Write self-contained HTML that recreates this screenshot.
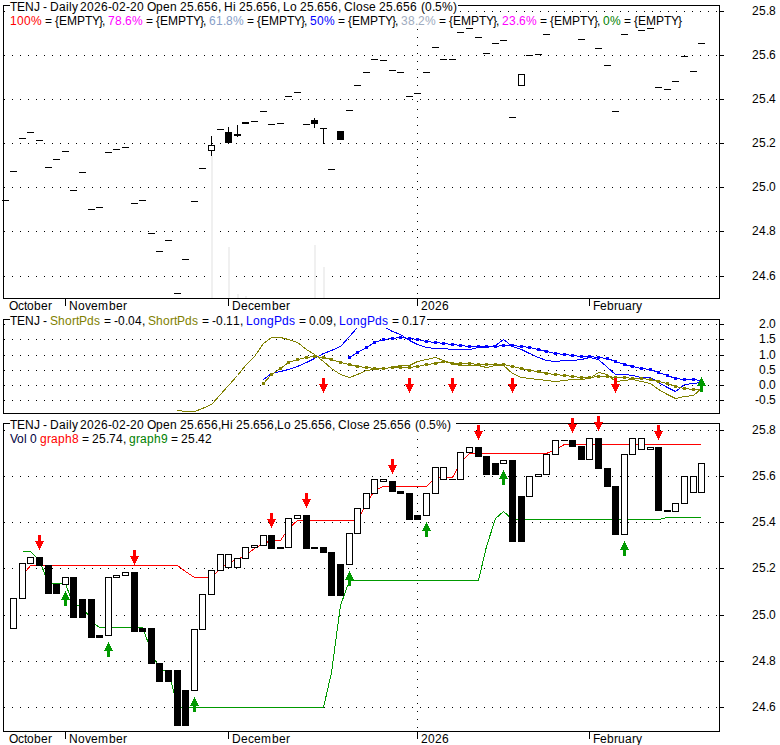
<!DOCTYPE html>
<html><head><meta charset="utf-8"><title>TENJ chart</title>
<style>
html,body{margin:0;padding:0;background:#fff;}
body{width:780px;height:745px;overflow:hidden;}
svg{display:block;font-family:"Liberation Sans",sans-serif;font-size:12px;fill:#000;}
svg rect{shape-rendering:crispEdges;}
</style></head><body>
<svg width="780" height="745" viewBox="0 0 780 745">
<rect x="0" y="0" width="780" height="745" fill="#fff"/>
<rect x="12" y="11" width="1" height="1" fill="#000"/>
<rect x="20" y="11" width="1" height="1" fill="#000"/>
<rect x="28" y="11" width="1" height="1" fill="#000"/>
<rect x="36" y="11" width="1" height="1" fill="#000"/>
<rect x="44" y="11" width="1" height="1" fill="#000"/>
<rect x="52" y="11" width="1" height="1" fill="#000"/>
<rect x="60" y="11" width="1" height="1" fill="#000"/>
<rect x="68" y="11" width="1" height="1" fill="#000"/>
<rect x="76" y="11" width="1" height="1" fill="#000"/>
<rect x="84" y="11" width="1" height="1" fill="#000"/>
<rect x="92" y="11" width="1" height="1" fill="#000"/>
<rect x="100" y="11" width="1" height="1" fill="#000"/>
<rect x="108" y="11" width="1" height="1" fill="#000"/>
<rect x="116" y="11" width="1" height="1" fill="#000"/>
<rect x="124" y="11" width="1" height="1" fill="#000"/>
<rect x="132" y="11" width="1" height="1" fill="#000"/>
<rect x="140" y="11" width="1" height="1" fill="#000"/>
<rect x="148" y="11" width="1" height="1" fill="#000"/>
<rect x="156" y="11" width="1" height="1" fill="#000"/>
<rect x="164" y="11" width="1" height="1" fill="#000"/>
<rect x="172" y="11" width="1" height="1" fill="#000"/>
<rect x="180" y="11" width="1" height="1" fill="#000"/>
<rect x="188" y="11" width="1" height="1" fill="#000"/>
<rect x="196" y="11" width="1" height="1" fill="#000"/>
<rect x="204" y="11" width="1" height="1" fill="#000"/>
<rect x="212" y="11" width="1" height="1" fill="#000"/>
<rect x="220" y="11" width="1" height="1" fill="#000"/>
<rect x="228" y="11" width="1" height="1" fill="#000"/>
<rect x="236" y="11" width="1" height="1" fill="#000"/>
<rect x="244" y="11" width="1" height="1" fill="#000"/>
<rect x="252" y="11" width="1" height="1" fill="#000"/>
<rect x="260" y="11" width="1" height="1" fill="#000"/>
<rect x="268" y="11" width="1" height="1" fill="#000"/>
<rect x="276" y="11" width="1" height="1" fill="#000"/>
<rect x="284" y="11" width="1" height="1" fill="#000"/>
<rect x="292" y="11" width="1" height="1" fill="#000"/>
<rect x="300" y="11" width="1" height="1" fill="#000"/>
<rect x="308" y="11" width="1" height="1" fill="#000"/>
<rect x="316" y="11" width="1" height="1" fill="#000"/>
<rect x="324" y="11" width="1" height="1" fill="#000"/>
<rect x="332" y="11" width="1" height="1" fill="#000"/>
<rect x="340" y="11" width="1" height="1" fill="#000"/>
<rect x="348" y="11" width="1" height="1" fill="#000"/>
<rect x="356" y="11" width="1" height="1" fill="#000"/>
<rect x="364" y="11" width="1" height="1" fill="#000"/>
<rect x="372" y="11" width="1" height="1" fill="#000"/>
<rect x="380" y="11" width="1" height="1" fill="#000"/>
<rect x="388" y="11" width="1" height="1" fill="#000"/>
<rect x="396" y="11" width="1" height="1" fill="#000"/>
<rect x="404" y="11" width="1" height="1" fill="#000"/>
<rect x="412" y="11" width="1" height="1" fill="#000"/>
<rect x="420" y="11" width="1" height="1" fill="#000"/>
<rect x="428" y="11" width="1" height="1" fill="#000"/>
<rect x="436" y="11" width="1" height="1" fill="#000"/>
<rect x="444" y="11" width="1" height="1" fill="#000"/>
<rect x="452" y="11" width="1" height="1" fill="#000"/>
<rect x="460" y="11" width="1" height="1" fill="#000"/>
<rect x="468" y="11" width="1" height="1" fill="#000"/>
<rect x="476" y="11" width="1" height="1" fill="#000"/>
<rect x="484" y="11" width="1" height="1" fill="#000"/>
<rect x="492" y="11" width="1" height="1" fill="#000"/>
<rect x="500" y="11" width="1" height="1" fill="#000"/>
<rect x="508" y="11" width="1" height="1" fill="#000"/>
<rect x="516" y="11" width="1" height="1" fill="#000"/>
<rect x="524" y="11" width="1" height="1" fill="#000"/>
<rect x="532" y="11" width="1" height="1" fill="#000"/>
<rect x="540" y="11" width="1" height="1" fill="#000"/>
<rect x="548" y="11" width="1" height="1" fill="#000"/>
<rect x="556" y="11" width="1" height="1" fill="#000"/>
<rect x="564" y="11" width="1" height="1" fill="#000"/>
<rect x="572" y="11" width="1" height="1" fill="#000"/>
<rect x="580" y="11" width="1" height="1" fill="#000"/>
<rect x="588" y="11" width="1" height="1" fill="#000"/>
<rect x="596" y="11" width="1" height="1" fill="#000"/>
<rect x="604" y="11" width="1" height="1" fill="#000"/>
<rect x="612" y="11" width="1" height="1" fill="#000"/>
<rect x="620" y="11" width="1" height="1" fill="#000"/>
<rect x="628" y="11" width="1" height="1" fill="#000"/>
<rect x="636" y="11" width="1" height="1" fill="#000"/>
<rect x="644" y="11" width="1" height="1" fill="#000"/>
<rect x="652" y="11" width="1" height="1" fill="#000"/>
<rect x="660" y="11" width="1" height="1" fill="#000"/>
<rect x="668" y="11" width="1" height="1" fill="#000"/>
<rect x="676" y="11" width="1" height="1" fill="#000"/>
<rect x="684" y="11" width="1" height="1" fill="#000"/>
<rect x="692" y="11" width="1" height="1" fill="#000"/>
<rect x="700" y="11" width="1" height="1" fill="#000"/>
<rect x="708" y="11" width="1" height="1" fill="#000"/>
<rect x="716" y="11" width="1" height="1" fill="#000"/>
<rect x="12" y="55" width="1" height="1" fill="#000"/>
<rect x="20" y="55" width="1" height="1" fill="#000"/>
<rect x="28" y="55" width="1" height="1" fill="#000"/>
<rect x="36" y="55" width="1" height="1" fill="#000"/>
<rect x="44" y="55" width="1" height="1" fill="#000"/>
<rect x="52" y="55" width="1" height="1" fill="#000"/>
<rect x="60" y="55" width="1" height="1" fill="#000"/>
<rect x="68" y="55" width="1" height="1" fill="#000"/>
<rect x="76" y="55" width="1" height="1" fill="#000"/>
<rect x="84" y="55" width="1" height="1" fill="#000"/>
<rect x="92" y="55" width="1" height="1" fill="#000"/>
<rect x="100" y="55" width="1" height="1" fill="#000"/>
<rect x="108" y="55" width="1" height="1" fill="#000"/>
<rect x="116" y="55" width="1" height="1" fill="#000"/>
<rect x="124" y="55" width="1" height="1" fill="#000"/>
<rect x="132" y="55" width="1" height="1" fill="#000"/>
<rect x="140" y="55" width="1" height="1" fill="#000"/>
<rect x="148" y="55" width="1" height="1" fill="#000"/>
<rect x="156" y="55" width="1" height="1" fill="#000"/>
<rect x="164" y="55" width="1" height="1" fill="#000"/>
<rect x="172" y="55" width="1" height="1" fill="#000"/>
<rect x="180" y="55" width="1" height="1" fill="#000"/>
<rect x="188" y="55" width="1" height="1" fill="#000"/>
<rect x="196" y="55" width="1" height="1" fill="#000"/>
<rect x="204" y="55" width="1" height="1" fill="#000"/>
<rect x="212" y="55" width="1" height="1" fill="#000"/>
<rect x="220" y="55" width="1" height="1" fill="#000"/>
<rect x="228" y="55" width="1" height="1" fill="#000"/>
<rect x="236" y="55" width="1" height="1" fill="#000"/>
<rect x="244" y="55" width="1" height="1" fill="#000"/>
<rect x="252" y="55" width="1" height="1" fill="#000"/>
<rect x="260" y="55" width="1" height="1" fill="#000"/>
<rect x="268" y="55" width="1" height="1" fill="#000"/>
<rect x="276" y="55" width="1" height="1" fill="#000"/>
<rect x="284" y="55" width="1" height="1" fill="#000"/>
<rect x="292" y="55" width="1" height="1" fill="#000"/>
<rect x="300" y="55" width="1" height="1" fill="#000"/>
<rect x="308" y="55" width="1" height="1" fill="#000"/>
<rect x="316" y="55" width="1" height="1" fill="#000"/>
<rect x="324" y="55" width="1" height="1" fill="#000"/>
<rect x="332" y="55" width="1" height="1" fill="#000"/>
<rect x="340" y="55" width="1" height="1" fill="#000"/>
<rect x="348" y="55" width="1" height="1" fill="#000"/>
<rect x="356" y="55" width="1" height="1" fill="#000"/>
<rect x="364" y="55" width="1" height="1" fill="#000"/>
<rect x="372" y="55" width="1" height="1" fill="#000"/>
<rect x="380" y="55" width="1" height="1" fill="#000"/>
<rect x="388" y="55" width="1" height="1" fill="#000"/>
<rect x="396" y="55" width="1" height="1" fill="#000"/>
<rect x="404" y="55" width="1" height="1" fill="#000"/>
<rect x="412" y="55" width="1" height="1" fill="#000"/>
<rect x="420" y="55" width="1" height="1" fill="#000"/>
<rect x="428" y="55" width="1" height="1" fill="#000"/>
<rect x="436" y="55" width="1" height="1" fill="#000"/>
<rect x="444" y="55" width="1" height="1" fill="#000"/>
<rect x="452" y="55" width="1" height="1" fill="#000"/>
<rect x="460" y="55" width="1" height="1" fill="#000"/>
<rect x="468" y="55" width="1" height="1" fill="#000"/>
<rect x="476" y="55" width="1" height="1" fill="#000"/>
<rect x="484" y="55" width="1" height="1" fill="#000"/>
<rect x="492" y="55" width="1" height="1" fill="#000"/>
<rect x="500" y="55" width="1" height="1" fill="#000"/>
<rect x="508" y="55" width="1" height="1" fill="#000"/>
<rect x="516" y="55" width="1" height="1" fill="#000"/>
<rect x="524" y="55" width="1" height="1" fill="#000"/>
<rect x="532" y="55" width="1" height="1" fill="#000"/>
<rect x="540" y="55" width="1" height="1" fill="#000"/>
<rect x="548" y="55" width="1" height="1" fill="#000"/>
<rect x="556" y="55" width="1" height="1" fill="#000"/>
<rect x="564" y="55" width="1" height="1" fill="#000"/>
<rect x="572" y="55" width="1" height="1" fill="#000"/>
<rect x="580" y="55" width="1" height="1" fill="#000"/>
<rect x="588" y="55" width="1" height="1" fill="#000"/>
<rect x="596" y="55" width="1" height="1" fill="#000"/>
<rect x="604" y="55" width="1" height="1" fill="#000"/>
<rect x="612" y="55" width="1" height="1" fill="#000"/>
<rect x="620" y="55" width="1" height="1" fill="#000"/>
<rect x="628" y="55" width="1" height="1" fill="#000"/>
<rect x="636" y="55" width="1" height="1" fill="#000"/>
<rect x="644" y="55" width="1" height="1" fill="#000"/>
<rect x="652" y="55" width="1" height="1" fill="#000"/>
<rect x="660" y="55" width="1" height="1" fill="#000"/>
<rect x="668" y="55" width="1" height="1" fill="#000"/>
<rect x="676" y="55" width="1" height="1" fill="#000"/>
<rect x="684" y="55" width="1" height="1" fill="#000"/>
<rect x="692" y="55" width="1" height="1" fill="#000"/>
<rect x="700" y="55" width="1" height="1" fill="#000"/>
<rect x="708" y="55" width="1" height="1" fill="#000"/>
<rect x="716" y="55" width="1" height="1" fill="#000"/>
<rect x="12" y="99" width="1" height="1" fill="#000"/>
<rect x="20" y="99" width="1" height="1" fill="#000"/>
<rect x="28" y="99" width="1" height="1" fill="#000"/>
<rect x="36" y="99" width="1" height="1" fill="#000"/>
<rect x="44" y="99" width="1" height="1" fill="#000"/>
<rect x="52" y="99" width="1" height="1" fill="#000"/>
<rect x="60" y="99" width="1" height="1" fill="#000"/>
<rect x="68" y="99" width="1" height="1" fill="#000"/>
<rect x="76" y="99" width="1" height="1" fill="#000"/>
<rect x="84" y="99" width="1" height="1" fill="#000"/>
<rect x="92" y="99" width="1" height="1" fill="#000"/>
<rect x="100" y="99" width="1" height="1" fill="#000"/>
<rect x="108" y="99" width="1" height="1" fill="#000"/>
<rect x="116" y="99" width="1" height="1" fill="#000"/>
<rect x="124" y="99" width="1" height="1" fill="#000"/>
<rect x="132" y="99" width="1" height="1" fill="#000"/>
<rect x="140" y="99" width="1" height="1" fill="#000"/>
<rect x="148" y="99" width="1" height="1" fill="#000"/>
<rect x="156" y="99" width="1" height="1" fill="#000"/>
<rect x="164" y="99" width="1" height="1" fill="#000"/>
<rect x="172" y="99" width="1" height="1" fill="#000"/>
<rect x="180" y="99" width="1" height="1" fill="#000"/>
<rect x="188" y="99" width="1" height="1" fill="#000"/>
<rect x="196" y="99" width="1" height="1" fill="#000"/>
<rect x="204" y="99" width="1" height="1" fill="#000"/>
<rect x="212" y="99" width="1" height="1" fill="#000"/>
<rect x="220" y="99" width="1" height="1" fill="#000"/>
<rect x="228" y="99" width="1" height="1" fill="#000"/>
<rect x="236" y="99" width="1" height="1" fill="#000"/>
<rect x="244" y="99" width="1" height="1" fill="#000"/>
<rect x="252" y="99" width="1" height="1" fill="#000"/>
<rect x="260" y="99" width="1" height="1" fill="#000"/>
<rect x="268" y="99" width="1" height="1" fill="#000"/>
<rect x="276" y="99" width="1" height="1" fill="#000"/>
<rect x="284" y="99" width="1" height="1" fill="#000"/>
<rect x="292" y="99" width="1" height="1" fill="#000"/>
<rect x="300" y="99" width="1" height="1" fill="#000"/>
<rect x="308" y="99" width="1" height="1" fill="#000"/>
<rect x="316" y="99" width="1" height="1" fill="#000"/>
<rect x="324" y="99" width="1" height="1" fill="#000"/>
<rect x="332" y="99" width="1" height="1" fill="#000"/>
<rect x="340" y="99" width="1" height="1" fill="#000"/>
<rect x="348" y="99" width="1" height="1" fill="#000"/>
<rect x="356" y="99" width="1" height="1" fill="#000"/>
<rect x="364" y="99" width="1" height="1" fill="#000"/>
<rect x="372" y="99" width="1" height="1" fill="#000"/>
<rect x="380" y="99" width="1" height="1" fill="#000"/>
<rect x="388" y="99" width="1" height="1" fill="#000"/>
<rect x="396" y="99" width="1" height="1" fill="#000"/>
<rect x="404" y="99" width="1" height="1" fill="#000"/>
<rect x="412" y="99" width="1" height="1" fill="#000"/>
<rect x="420" y="99" width="1" height="1" fill="#000"/>
<rect x="428" y="99" width="1" height="1" fill="#000"/>
<rect x="436" y="99" width="1" height="1" fill="#000"/>
<rect x="444" y="99" width="1" height="1" fill="#000"/>
<rect x="452" y="99" width="1" height="1" fill="#000"/>
<rect x="460" y="99" width="1" height="1" fill="#000"/>
<rect x="468" y="99" width="1" height="1" fill="#000"/>
<rect x="476" y="99" width="1" height="1" fill="#000"/>
<rect x="484" y="99" width="1" height="1" fill="#000"/>
<rect x="492" y="99" width="1" height="1" fill="#000"/>
<rect x="500" y="99" width="1" height="1" fill="#000"/>
<rect x="508" y="99" width="1" height="1" fill="#000"/>
<rect x="516" y="99" width="1" height="1" fill="#000"/>
<rect x="524" y="99" width="1" height="1" fill="#000"/>
<rect x="532" y="99" width="1" height="1" fill="#000"/>
<rect x="540" y="99" width="1" height="1" fill="#000"/>
<rect x="548" y="99" width="1" height="1" fill="#000"/>
<rect x="556" y="99" width="1" height="1" fill="#000"/>
<rect x="564" y="99" width="1" height="1" fill="#000"/>
<rect x="572" y="99" width="1" height="1" fill="#000"/>
<rect x="580" y="99" width="1" height="1" fill="#000"/>
<rect x="588" y="99" width="1" height="1" fill="#000"/>
<rect x="596" y="99" width="1" height="1" fill="#000"/>
<rect x="604" y="99" width="1" height="1" fill="#000"/>
<rect x="612" y="99" width="1" height="1" fill="#000"/>
<rect x="620" y="99" width="1" height="1" fill="#000"/>
<rect x="628" y="99" width="1" height="1" fill="#000"/>
<rect x="636" y="99" width="1" height="1" fill="#000"/>
<rect x="644" y="99" width="1" height="1" fill="#000"/>
<rect x="652" y="99" width="1" height="1" fill="#000"/>
<rect x="660" y="99" width="1" height="1" fill="#000"/>
<rect x="668" y="99" width="1" height="1" fill="#000"/>
<rect x="676" y="99" width="1" height="1" fill="#000"/>
<rect x="684" y="99" width="1" height="1" fill="#000"/>
<rect x="692" y="99" width="1" height="1" fill="#000"/>
<rect x="700" y="99" width="1" height="1" fill="#000"/>
<rect x="708" y="99" width="1" height="1" fill="#000"/>
<rect x="716" y="99" width="1" height="1" fill="#000"/>
<rect x="12" y="143" width="1" height="1" fill="#000"/>
<rect x="20" y="143" width="1" height="1" fill="#000"/>
<rect x="28" y="143" width="1" height="1" fill="#000"/>
<rect x="36" y="143" width="1" height="1" fill="#000"/>
<rect x="44" y="143" width="1" height="1" fill="#000"/>
<rect x="52" y="143" width="1" height="1" fill="#000"/>
<rect x="60" y="143" width="1" height="1" fill="#000"/>
<rect x="68" y="143" width="1" height="1" fill="#000"/>
<rect x="76" y="143" width="1" height="1" fill="#000"/>
<rect x="84" y="143" width="1" height="1" fill="#000"/>
<rect x="92" y="143" width="1" height="1" fill="#000"/>
<rect x="100" y="143" width="1" height="1" fill="#000"/>
<rect x="108" y="143" width="1" height="1" fill="#000"/>
<rect x="116" y="143" width="1" height="1" fill="#000"/>
<rect x="124" y="143" width="1" height="1" fill="#000"/>
<rect x="132" y="143" width="1" height="1" fill="#000"/>
<rect x="140" y="143" width="1" height="1" fill="#000"/>
<rect x="148" y="143" width="1" height="1" fill="#000"/>
<rect x="156" y="143" width="1" height="1" fill="#000"/>
<rect x="164" y="143" width="1" height="1" fill="#000"/>
<rect x="172" y="143" width="1" height="1" fill="#000"/>
<rect x="180" y="143" width="1" height="1" fill="#000"/>
<rect x="188" y="143" width="1" height="1" fill="#000"/>
<rect x="196" y="143" width="1" height="1" fill="#000"/>
<rect x="204" y="143" width="1" height="1" fill="#000"/>
<rect x="212" y="143" width="1" height="1" fill="#000"/>
<rect x="220" y="143" width="1" height="1" fill="#000"/>
<rect x="228" y="143" width="1" height="1" fill="#000"/>
<rect x="236" y="143" width="1" height="1" fill="#000"/>
<rect x="244" y="143" width="1" height="1" fill="#000"/>
<rect x="252" y="143" width="1" height="1" fill="#000"/>
<rect x="260" y="143" width="1" height="1" fill="#000"/>
<rect x="268" y="143" width="1" height="1" fill="#000"/>
<rect x="276" y="143" width="1" height="1" fill="#000"/>
<rect x="284" y="143" width="1" height="1" fill="#000"/>
<rect x="292" y="143" width="1" height="1" fill="#000"/>
<rect x="300" y="143" width="1" height="1" fill="#000"/>
<rect x="308" y="143" width="1" height="1" fill="#000"/>
<rect x="316" y="143" width="1" height="1" fill="#000"/>
<rect x="324" y="143" width="1" height="1" fill="#000"/>
<rect x="332" y="143" width="1" height="1" fill="#000"/>
<rect x="340" y="143" width="1" height="1" fill="#000"/>
<rect x="348" y="143" width="1" height="1" fill="#000"/>
<rect x="356" y="143" width="1" height="1" fill="#000"/>
<rect x="364" y="143" width="1" height="1" fill="#000"/>
<rect x="372" y="143" width="1" height="1" fill="#000"/>
<rect x="380" y="143" width="1" height="1" fill="#000"/>
<rect x="388" y="143" width="1" height="1" fill="#000"/>
<rect x="396" y="143" width="1" height="1" fill="#000"/>
<rect x="404" y="143" width="1" height="1" fill="#000"/>
<rect x="412" y="143" width="1" height="1" fill="#000"/>
<rect x="420" y="143" width="1" height="1" fill="#000"/>
<rect x="428" y="143" width="1" height="1" fill="#000"/>
<rect x="436" y="143" width="1" height="1" fill="#000"/>
<rect x="444" y="143" width="1" height="1" fill="#000"/>
<rect x="452" y="143" width="1" height="1" fill="#000"/>
<rect x="460" y="143" width="1" height="1" fill="#000"/>
<rect x="468" y="143" width="1" height="1" fill="#000"/>
<rect x="476" y="143" width="1" height="1" fill="#000"/>
<rect x="484" y="143" width="1" height="1" fill="#000"/>
<rect x="492" y="143" width="1" height="1" fill="#000"/>
<rect x="500" y="143" width="1" height="1" fill="#000"/>
<rect x="508" y="143" width="1" height="1" fill="#000"/>
<rect x="516" y="143" width="1" height="1" fill="#000"/>
<rect x="524" y="143" width="1" height="1" fill="#000"/>
<rect x="532" y="143" width="1" height="1" fill="#000"/>
<rect x="540" y="143" width="1" height="1" fill="#000"/>
<rect x="548" y="143" width="1" height="1" fill="#000"/>
<rect x="556" y="143" width="1" height="1" fill="#000"/>
<rect x="564" y="143" width="1" height="1" fill="#000"/>
<rect x="572" y="143" width="1" height="1" fill="#000"/>
<rect x="580" y="143" width="1" height="1" fill="#000"/>
<rect x="588" y="143" width="1" height="1" fill="#000"/>
<rect x="596" y="143" width="1" height="1" fill="#000"/>
<rect x="604" y="143" width="1" height="1" fill="#000"/>
<rect x="612" y="143" width="1" height="1" fill="#000"/>
<rect x="620" y="143" width="1" height="1" fill="#000"/>
<rect x="628" y="143" width="1" height="1" fill="#000"/>
<rect x="636" y="143" width="1" height="1" fill="#000"/>
<rect x="644" y="143" width="1" height="1" fill="#000"/>
<rect x="652" y="143" width="1" height="1" fill="#000"/>
<rect x="660" y="143" width="1" height="1" fill="#000"/>
<rect x="668" y="143" width="1" height="1" fill="#000"/>
<rect x="676" y="143" width="1" height="1" fill="#000"/>
<rect x="684" y="143" width="1" height="1" fill="#000"/>
<rect x="692" y="143" width="1" height="1" fill="#000"/>
<rect x="700" y="143" width="1" height="1" fill="#000"/>
<rect x="708" y="143" width="1" height="1" fill="#000"/>
<rect x="716" y="143" width="1" height="1" fill="#000"/>
<rect x="12" y="187" width="1" height="1" fill="#000"/>
<rect x="20" y="187" width="1" height="1" fill="#000"/>
<rect x="28" y="187" width="1" height="1" fill="#000"/>
<rect x="36" y="187" width="1" height="1" fill="#000"/>
<rect x="44" y="187" width="1" height="1" fill="#000"/>
<rect x="52" y="187" width="1" height="1" fill="#000"/>
<rect x="60" y="187" width="1" height="1" fill="#000"/>
<rect x="68" y="187" width="1" height="1" fill="#000"/>
<rect x="76" y="187" width="1" height="1" fill="#000"/>
<rect x="84" y="187" width="1" height="1" fill="#000"/>
<rect x="92" y="187" width="1" height="1" fill="#000"/>
<rect x="100" y="187" width="1" height="1" fill="#000"/>
<rect x="108" y="187" width="1" height="1" fill="#000"/>
<rect x="116" y="187" width="1" height="1" fill="#000"/>
<rect x="124" y="187" width="1" height="1" fill="#000"/>
<rect x="132" y="187" width="1" height="1" fill="#000"/>
<rect x="140" y="187" width="1" height="1" fill="#000"/>
<rect x="148" y="187" width="1" height="1" fill="#000"/>
<rect x="156" y="187" width="1" height="1" fill="#000"/>
<rect x="164" y="187" width="1" height="1" fill="#000"/>
<rect x="172" y="187" width="1" height="1" fill="#000"/>
<rect x="180" y="187" width="1" height="1" fill="#000"/>
<rect x="188" y="187" width="1" height="1" fill="#000"/>
<rect x="196" y="187" width="1" height="1" fill="#000"/>
<rect x="204" y="187" width="1" height="1" fill="#000"/>
<rect x="212" y="187" width="1" height="1" fill="#000"/>
<rect x="220" y="187" width="1" height="1" fill="#000"/>
<rect x="228" y="187" width="1" height="1" fill="#000"/>
<rect x="236" y="187" width="1" height="1" fill="#000"/>
<rect x="244" y="187" width="1" height="1" fill="#000"/>
<rect x="252" y="187" width="1" height="1" fill="#000"/>
<rect x="260" y="187" width="1" height="1" fill="#000"/>
<rect x="268" y="187" width="1" height="1" fill="#000"/>
<rect x="276" y="187" width="1" height="1" fill="#000"/>
<rect x="284" y="187" width="1" height="1" fill="#000"/>
<rect x="292" y="187" width="1" height="1" fill="#000"/>
<rect x="300" y="187" width="1" height="1" fill="#000"/>
<rect x="308" y="187" width="1" height="1" fill="#000"/>
<rect x="316" y="187" width="1" height="1" fill="#000"/>
<rect x="324" y="187" width="1" height="1" fill="#000"/>
<rect x="332" y="187" width="1" height="1" fill="#000"/>
<rect x="340" y="187" width="1" height="1" fill="#000"/>
<rect x="348" y="187" width="1" height="1" fill="#000"/>
<rect x="356" y="187" width="1" height="1" fill="#000"/>
<rect x="364" y="187" width="1" height="1" fill="#000"/>
<rect x="372" y="187" width="1" height="1" fill="#000"/>
<rect x="380" y="187" width="1" height="1" fill="#000"/>
<rect x="388" y="187" width="1" height="1" fill="#000"/>
<rect x="396" y="187" width="1" height="1" fill="#000"/>
<rect x="404" y="187" width="1" height="1" fill="#000"/>
<rect x="412" y="187" width="1" height="1" fill="#000"/>
<rect x="420" y="187" width="1" height="1" fill="#000"/>
<rect x="428" y="187" width="1" height="1" fill="#000"/>
<rect x="436" y="187" width="1" height="1" fill="#000"/>
<rect x="444" y="187" width="1" height="1" fill="#000"/>
<rect x="452" y="187" width="1" height="1" fill="#000"/>
<rect x="460" y="187" width="1" height="1" fill="#000"/>
<rect x="468" y="187" width="1" height="1" fill="#000"/>
<rect x="476" y="187" width="1" height="1" fill="#000"/>
<rect x="484" y="187" width="1" height="1" fill="#000"/>
<rect x="492" y="187" width="1" height="1" fill="#000"/>
<rect x="500" y="187" width="1" height="1" fill="#000"/>
<rect x="508" y="187" width="1" height="1" fill="#000"/>
<rect x="516" y="187" width="1" height="1" fill="#000"/>
<rect x="524" y="187" width="1" height="1" fill="#000"/>
<rect x="532" y="187" width="1" height="1" fill="#000"/>
<rect x="540" y="187" width="1" height="1" fill="#000"/>
<rect x="548" y="187" width="1" height="1" fill="#000"/>
<rect x="556" y="187" width="1" height="1" fill="#000"/>
<rect x="564" y="187" width="1" height="1" fill="#000"/>
<rect x="572" y="187" width="1" height="1" fill="#000"/>
<rect x="580" y="187" width="1" height="1" fill="#000"/>
<rect x="588" y="187" width="1" height="1" fill="#000"/>
<rect x="596" y="187" width="1" height="1" fill="#000"/>
<rect x="604" y="187" width="1" height="1" fill="#000"/>
<rect x="612" y="187" width="1" height="1" fill="#000"/>
<rect x="620" y="187" width="1" height="1" fill="#000"/>
<rect x="628" y="187" width="1" height="1" fill="#000"/>
<rect x="636" y="187" width="1" height="1" fill="#000"/>
<rect x="644" y="187" width="1" height="1" fill="#000"/>
<rect x="652" y="187" width="1" height="1" fill="#000"/>
<rect x="660" y="187" width="1" height="1" fill="#000"/>
<rect x="668" y="187" width="1" height="1" fill="#000"/>
<rect x="676" y="187" width="1" height="1" fill="#000"/>
<rect x="684" y="187" width="1" height="1" fill="#000"/>
<rect x="692" y="187" width="1" height="1" fill="#000"/>
<rect x="700" y="187" width="1" height="1" fill="#000"/>
<rect x="708" y="187" width="1" height="1" fill="#000"/>
<rect x="716" y="187" width="1" height="1" fill="#000"/>
<rect x="12" y="231" width="1" height="1" fill="#000"/>
<rect x="20" y="231" width="1" height="1" fill="#000"/>
<rect x="28" y="231" width="1" height="1" fill="#000"/>
<rect x="36" y="231" width="1" height="1" fill="#000"/>
<rect x="44" y="231" width="1" height="1" fill="#000"/>
<rect x="52" y="231" width="1" height="1" fill="#000"/>
<rect x="60" y="231" width="1" height="1" fill="#000"/>
<rect x="68" y="231" width="1" height="1" fill="#000"/>
<rect x="76" y="231" width="1" height="1" fill="#000"/>
<rect x="84" y="231" width="1" height="1" fill="#000"/>
<rect x="92" y="231" width="1" height="1" fill="#000"/>
<rect x="100" y="231" width="1" height="1" fill="#000"/>
<rect x="108" y="231" width="1" height="1" fill="#000"/>
<rect x="116" y="231" width="1" height="1" fill="#000"/>
<rect x="124" y="231" width="1" height="1" fill="#000"/>
<rect x="132" y="231" width="1" height="1" fill="#000"/>
<rect x="140" y="231" width="1" height="1" fill="#000"/>
<rect x="148" y="231" width="1" height="1" fill="#000"/>
<rect x="156" y="231" width="1" height="1" fill="#000"/>
<rect x="164" y="231" width="1" height="1" fill="#000"/>
<rect x="172" y="231" width="1" height="1" fill="#000"/>
<rect x="180" y="231" width="1" height="1" fill="#000"/>
<rect x="188" y="231" width="1" height="1" fill="#000"/>
<rect x="196" y="231" width="1" height="1" fill="#000"/>
<rect x="204" y="231" width="1" height="1" fill="#000"/>
<rect x="212" y="231" width="1" height="1" fill="#000"/>
<rect x="220" y="231" width="1" height="1" fill="#000"/>
<rect x="228" y="231" width="1" height="1" fill="#000"/>
<rect x="236" y="231" width="1" height="1" fill="#000"/>
<rect x="244" y="231" width="1" height="1" fill="#000"/>
<rect x="252" y="231" width="1" height="1" fill="#000"/>
<rect x="260" y="231" width="1" height="1" fill="#000"/>
<rect x="268" y="231" width="1" height="1" fill="#000"/>
<rect x="276" y="231" width="1" height="1" fill="#000"/>
<rect x="284" y="231" width="1" height="1" fill="#000"/>
<rect x="292" y="231" width="1" height="1" fill="#000"/>
<rect x="300" y="231" width="1" height="1" fill="#000"/>
<rect x="308" y="231" width="1" height="1" fill="#000"/>
<rect x="316" y="231" width="1" height="1" fill="#000"/>
<rect x="324" y="231" width="1" height="1" fill="#000"/>
<rect x="332" y="231" width="1" height="1" fill="#000"/>
<rect x="340" y="231" width="1" height="1" fill="#000"/>
<rect x="348" y="231" width="1" height="1" fill="#000"/>
<rect x="356" y="231" width="1" height="1" fill="#000"/>
<rect x="364" y="231" width="1" height="1" fill="#000"/>
<rect x="372" y="231" width="1" height="1" fill="#000"/>
<rect x="380" y="231" width="1" height="1" fill="#000"/>
<rect x="388" y="231" width="1" height="1" fill="#000"/>
<rect x="396" y="231" width="1" height="1" fill="#000"/>
<rect x="404" y="231" width="1" height="1" fill="#000"/>
<rect x="412" y="231" width="1" height="1" fill="#000"/>
<rect x="420" y="231" width="1" height="1" fill="#000"/>
<rect x="428" y="231" width="1" height="1" fill="#000"/>
<rect x="436" y="231" width="1" height="1" fill="#000"/>
<rect x="444" y="231" width="1" height="1" fill="#000"/>
<rect x="452" y="231" width="1" height="1" fill="#000"/>
<rect x="460" y="231" width="1" height="1" fill="#000"/>
<rect x="468" y="231" width="1" height="1" fill="#000"/>
<rect x="476" y="231" width="1" height="1" fill="#000"/>
<rect x="484" y="231" width="1" height="1" fill="#000"/>
<rect x="492" y="231" width="1" height="1" fill="#000"/>
<rect x="500" y="231" width="1" height="1" fill="#000"/>
<rect x="508" y="231" width="1" height="1" fill="#000"/>
<rect x="516" y="231" width="1" height="1" fill="#000"/>
<rect x="524" y="231" width="1" height="1" fill="#000"/>
<rect x="532" y="231" width="1" height="1" fill="#000"/>
<rect x="540" y="231" width="1" height="1" fill="#000"/>
<rect x="548" y="231" width="1" height="1" fill="#000"/>
<rect x="556" y="231" width="1" height="1" fill="#000"/>
<rect x="564" y="231" width="1" height="1" fill="#000"/>
<rect x="572" y="231" width="1" height="1" fill="#000"/>
<rect x="580" y="231" width="1" height="1" fill="#000"/>
<rect x="588" y="231" width="1" height="1" fill="#000"/>
<rect x="596" y="231" width="1" height="1" fill="#000"/>
<rect x="604" y="231" width="1" height="1" fill="#000"/>
<rect x="612" y="231" width="1" height="1" fill="#000"/>
<rect x="620" y="231" width="1" height="1" fill="#000"/>
<rect x="628" y="231" width="1" height="1" fill="#000"/>
<rect x="636" y="231" width="1" height="1" fill="#000"/>
<rect x="644" y="231" width="1" height="1" fill="#000"/>
<rect x="652" y="231" width="1" height="1" fill="#000"/>
<rect x="660" y="231" width="1" height="1" fill="#000"/>
<rect x="668" y="231" width="1" height="1" fill="#000"/>
<rect x="676" y="231" width="1" height="1" fill="#000"/>
<rect x="684" y="231" width="1" height="1" fill="#000"/>
<rect x="692" y="231" width="1" height="1" fill="#000"/>
<rect x="700" y="231" width="1" height="1" fill="#000"/>
<rect x="708" y="231" width="1" height="1" fill="#000"/>
<rect x="716" y="231" width="1" height="1" fill="#000"/>
<rect x="12" y="276" width="1" height="1" fill="#000"/>
<rect x="20" y="276" width="1" height="1" fill="#000"/>
<rect x="28" y="276" width="1" height="1" fill="#000"/>
<rect x="36" y="276" width="1" height="1" fill="#000"/>
<rect x="44" y="276" width="1" height="1" fill="#000"/>
<rect x="52" y="276" width="1" height="1" fill="#000"/>
<rect x="60" y="276" width="1" height="1" fill="#000"/>
<rect x="68" y="276" width="1" height="1" fill="#000"/>
<rect x="76" y="276" width="1" height="1" fill="#000"/>
<rect x="84" y="276" width="1" height="1" fill="#000"/>
<rect x="92" y="276" width="1" height="1" fill="#000"/>
<rect x="100" y="276" width="1" height="1" fill="#000"/>
<rect x="108" y="276" width="1" height="1" fill="#000"/>
<rect x="116" y="276" width="1" height="1" fill="#000"/>
<rect x="124" y="276" width="1" height="1" fill="#000"/>
<rect x="132" y="276" width="1" height="1" fill="#000"/>
<rect x="140" y="276" width="1" height="1" fill="#000"/>
<rect x="148" y="276" width="1" height="1" fill="#000"/>
<rect x="156" y="276" width="1" height="1" fill="#000"/>
<rect x="164" y="276" width="1" height="1" fill="#000"/>
<rect x="172" y="276" width="1" height="1" fill="#000"/>
<rect x="180" y="276" width="1" height="1" fill="#000"/>
<rect x="188" y="276" width="1" height="1" fill="#000"/>
<rect x="196" y="276" width="1" height="1" fill="#000"/>
<rect x="204" y="276" width="1" height="1" fill="#000"/>
<rect x="212" y="276" width="1" height="1" fill="#000"/>
<rect x="220" y="276" width="1" height="1" fill="#000"/>
<rect x="228" y="276" width="1" height="1" fill="#000"/>
<rect x="236" y="276" width="1" height="1" fill="#000"/>
<rect x="244" y="276" width="1" height="1" fill="#000"/>
<rect x="252" y="276" width="1" height="1" fill="#000"/>
<rect x="260" y="276" width="1" height="1" fill="#000"/>
<rect x="268" y="276" width="1" height="1" fill="#000"/>
<rect x="276" y="276" width="1" height="1" fill="#000"/>
<rect x="284" y="276" width="1" height="1" fill="#000"/>
<rect x="292" y="276" width="1" height="1" fill="#000"/>
<rect x="300" y="276" width="1" height="1" fill="#000"/>
<rect x="308" y="276" width="1" height="1" fill="#000"/>
<rect x="316" y="276" width="1" height="1" fill="#000"/>
<rect x="324" y="276" width="1" height="1" fill="#000"/>
<rect x="332" y="276" width="1" height="1" fill="#000"/>
<rect x="340" y="276" width="1" height="1" fill="#000"/>
<rect x="348" y="276" width="1" height="1" fill="#000"/>
<rect x="356" y="276" width="1" height="1" fill="#000"/>
<rect x="364" y="276" width="1" height="1" fill="#000"/>
<rect x="372" y="276" width="1" height="1" fill="#000"/>
<rect x="380" y="276" width="1" height="1" fill="#000"/>
<rect x="388" y="276" width="1" height="1" fill="#000"/>
<rect x="396" y="276" width="1" height="1" fill="#000"/>
<rect x="404" y="276" width="1" height="1" fill="#000"/>
<rect x="412" y="276" width="1" height="1" fill="#000"/>
<rect x="420" y="276" width="1" height="1" fill="#000"/>
<rect x="428" y="276" width="1" height="1" fill="#000"/>
<rect x="436" y="276" width="1" height="1" fill="#000"/>
<rect x="444" y="276" width="1" height="1" fill="#000"/>
<rect x="452" y="276" width="1" height="1" fill="#000"/>
<rect x="460" y="276" width="1" height="1" fill="#000"/>
<rect x="468" y="276" width="1" height="1" fill="#000"/>
<rect x="476" y="276" width="1" height="1" fill="#000"/>
<rect x="484" y="276" width="1" height="1" fill="#000"/>
<rect x="492" y="276" width="1" height="1" fill="#000"/>
<rect x="500" y="276" width="1" height="1" fill="#000"/>
<rect x="508" y="276" width="1" height="1" fill="#000"/>
<rect x="516" y="276" width="1" height="1" fill="#000"/>
<rect x="524" y="276" width="1" height="1" fill="#000"/>
<rect x="532" y="276" width="1" height="1" fill="#000"/>
<rect x="540" y="276" width="1" height="1" fill="#000"/>
<rect x="548" y="276" width="1" height="1" fill="#000"/>
<rect x="556" y="276" width="1" height="1" fill="#000"/>
<rect x="564" y="276" width="1" height="1" fill="#000"/>
<rect x="572" y="276" width="1" height="1" fill="#000"/>
<rect x="580" y="276" width="1" height="1" fill="#000"/>
<rect x="588" y="276" width="1" height="1" fill="#000"/>
<rect x="596" y="276" width="1" height="1" fill="#000"/>
<rect x="604" y="276" width="1" height="1" fill="#000"/>
<rect x="612" y="276" width="1" height="1" fill="#000"/>
<rect x="620" y="276" width="1" height="1" fill="#000"/>
<rect x="628" y="276" width="1" height="1" fill="#000"/>
<rect x="636" y="276" width="1" height="1" fill="#000"/>
<rect x="644" y="276" width="1" height="1" fill="#000"/>
<rect x="652" y="276" width="1" height="1" fill="#000"/>
<rect x="660" y="276" width="1" height="1" fill="#000"/>
<rect x="668" y="276" width="1" height="1" fill="#000"/>
<rect x="676" y="276" width="1" height="1" fill="#000"/>
<rect x="684" y="276" width="1" height="1" fill="#000"/>
<rect x="692" y="276" width="1" height="1" fill="#000"/>
<rect x="700" y="276" width="1" height="1" fill="#000"/>
<rect x="708" y="276" width="1" height="1" fill="#000"/>
<rect x="716" y="276" width="1" height="1" fill="#000"/>
<rect x="417" y="13" width="1" height="1" fill="#000"/>
<rect x="417" y="21" width="1" height="1" fill="#000"/>
<rect x="417" y="29" width="1" height="1" fill="#000"/>
<rect x="417" y="37" width="1" height="1" fill="#000"/>
<rect x="417" y="45" width="1" height="1" fill="#000"/>
<rect x="417" y="53" width="1" height="1" fill="#000"/>
<rect x="417" y="61" width="1" height="1" fill="#000"/>
<rect x="417" y="69" width="1" height="1" fill="#000"/>
<rect x="417" y="77" width="1" height="1" fill="#000"/>
<rect x="417" y="85" width="1" height="1" fill="#000"/>
<rect x="417" y="93" width="1" height="1" fill="#000"/>
<rect x="417" y="101" width="1" height="1" fill="#000"/>
<rect x="417" y="109" width="1" height="1" fill="#000"/>
<rect x="417" y="117" width="1" height="1" fill="#000"/>
<rect x="417" y="125" width="1" height="1" fill="#000"/>
<rect x="417" y="133" width="1" height="1" fill="#000"/>
<rect x="417" y="141" width="1" height="1" fill="#000"/>
<rect x="417" y="149" width="1" height="1" fill="#000"/>
<rect x="417" y="157" width="1" height="1" fill="#000"/>
<rect x="417" y="165" width="1" height="1" fill="#000"/>
<rect x="417" y="173" width="1" height="1" fill="#000"/>
<rect x="417" y="181" width="1" height="1" fill="#000"/>
<rect x="417" y="189" width="1" height="1" fill="#000"/>
<rect x="417" y="197" width="1" height="1" fill="#000"/>
<rect x="417" y="205" width="1" height="1" fill="#000"/>
<rect x="417" y="213" width="1" height="1" fill="#000"/>
<rect x="417" y="221" width="1" height="1" fill="#000"/>
<rect x="417" y="229" width="1" height="1" fill="#000"/>
<rect x="417" y="237" width="1" height="1" fill="#000"/>
<rect x="417" y="245" width="1" height="1" fill="#000"/>
<rect x="417" y="253" width="1" height="1" fill="#000"/>
<rect x="417" y="261" width="1" height="1" fill="#000"/>
<rect x="417" y="269" width="1" height="1" fill="#000"/>
<rect x="417" y="277" width="1" height="1" fill="#000"/>
<rect x="417" y="285" width="1" height="1" fill="#000"/>
<rect x="417" y="293" width="1" height="1" fill="#000"/>
<rect x="211" y="156" width="2" height="142" fill="#f0f0f0"/>
<rect x="228" y="247" width="2" height="51" fill="#f0f0f0"/>
<rect x="314" y="245" width="2" height="53" fill="#f0f0f0"/>
<rect x="323" y="267" width="2" height="31" fill="#f0f0f0"/>
<rect x="237" y="294" width="2" height="4" fill="#f0f0f0"/>
<rect x="245" y="296" width="2" height="2" fill="#f0f0f0"/>
<rect x="2" y="200" width="7" height="1" fill="#000"/>
<rect x="10" y="171" width="7" height="1" fill="#000"/>
<rect x="19" y="138" width="7" height="1" fill="#000"/>
<rect x="27" y="132" width="7" height="1" fill="#000"/>
<rect x="36" y="140" width="7" height="1" fill="#000"/>
<rect x="45" y="167" width="7" height="1" fill="#000"/>
<rect x="53" y="159" width="7" height="1" fill="#000"/>
<rect x="62" y="151" width="7" height="1" fill="#000"/>
<rect x="70" y="190" width="7" height="1" fill="#000"/>
<rect x="79" y="172" width="7" height="1" fill="#000"/>
<rect x="88" y="209" width="7" height="1" fill="#000"/>
<rect x="96" y="207" width="7" height="1" fill="#000"/>
<rect x="105" y="152" width="7" height="1" fill="#000"/>
<rect x="113" y="149" width="7" height="1" fill="#000"/>
<rect x="122" y="147" width="7" height="1" fill="#000"/>
<rect x="131" y="203" width="7" height="1" fill="#000"/>
<rect x="139" y="200" width="7" height="1" fill="#000"/>
<rect x="148" y="233" width="7" height="1" fill="#000"/>
<rect x="156" y="251" width="7" height="1" fill="#000"/>
<rect x="165" y="240" width="7" height="1" fill="#000"/>
<rect x="174" y="293" width="7" height="1" fill="#000"/>
<rect x="182" y="259" width="7" height="1" fill="#000"/>
<rect x="191" y="201" width="7" height="1" fill="#000"/>
<rect x="199" y="168" width="7" height="1" fill="#000"/>
<rect x="217" y="129" width="7" height="1" fill="#000"/>
<rect x="251" y="121" width="7" height="1" fill="#000"/>
<rect x="260" y="111" width="7" height="1" fill="#000"/>
<rect x="268" y="124" width="7" height="1" fill="#000"/>
<rect x="277" y="123" width="7" height="1" fill="#000"/>
<rect x="285" y="96" width="7" height="1" fill="#000"/>
<rect x="294" y="92" width="7" height="1" fill="#000"/>
<rect x="303" y="124" width="7" height="1" fill="#000"/>
<rect x="328" y="169" width="7" height="1" fill="#000"/>
<rect x="346" y="110" width="7" height="1" fill="#000"/>
<rect x="354" y="85" width="7" height="1" fill="#000"/>
<rect x="363" y="72" width="7" height="1" fill="#000"/>
<rect x="371" y="59" width="7" height="1" fill="#000"/>
<rect x="380" y="60" width="7" height="1" fill="#000"/>
<rect x="389" y="70" width="7" height="1" fill="#000"/>
<rect x="397" y="72" width="7" height="1" fill="#000"/>
<rect x="406" y="96" width="7" height="1" fill="#000"/>
<rect x="414" y="93" width="7" height="1" fill="#000"/>
<rect x="423" y="72" width="7" height="1" fill="#000"/>
<rect x="432" y="47" width="7" height="1" fill="#000"/>
<rect x="440" y="59" width="7" height="1" fill="#000"/>
<rect x="449" y="59" width="7" height="1" fill="#000"/>
<rect x="457" y="32" width="7" height="1" fill="#000"/>
<rect x="466" y="28" width="7" height="1" fill="#000"/>
<rect x="475" y="37" width="7" height="1" fill="#000"/>
<rect x="483" y="53" width="7" height="1" fill="#000"/>
<rect x="492" y="43" width="7" height="1" fill="#000"/>
<rect x="500" y="40" width="7" height="1" fill="#000"/>
<rect x="509" y="117" width="7" height="1" fill="#000"/>
<rect x="526" y="55" width="7" height="1" fill="#000"/>
<rect x="535" y="54" width="7" height="1" fill="#000"/>
<rect x="543" y="34" width="7" height="1" fill="#000"/>
<rect x="552" y="20" width="7" height="1" fill="#000"/>
<rect x="561" y="20" width="7" height="1" fill="#000"/>
<rect x="569" y="26" width="7" height="1" fill="#000"/>
<rect x="578" y="39" width="7" height="1" fill="#000"/>
<rect x="586" y="18" width="7" height="1" fill="#000"/>
<rect x="595" y="48" width="7" height="1" fill="#000"/>
<rect x="604" y="65" width="7" height="1" fill="#000"/>
<rect x="612" y="111" width="7" height="1" fill="#000"/>
<rect x="621" y="34" width="7" height="1" fill="#000"/>
<rect x="629" y="18" width="7" height="1" fill="#000"/>
<rect x="638" y="30" width="7" height="1" fill="#000"/>
<rect x="647" y="28" width="7" height="1" fill="#000"/>
<rect x="655" y="87" width="7" height="1" fill="#000"/>
<rect x="664" y="89" width="7" height="1" fill="#000"/>
<rect x="672" y="81" width="7" height="1" fill="#000"/>
<rect x="681" y="56" width="7" height="1" fill="#000"/>
<rect x="690" y="71" width="7" height="1" fill="#000"/>
<rect x="698" y="43" width="7" height="1" fill="#000"/>
<rect x="211" y="136" width="1" height="20" fill="#000"/>
<rect x="208" y="145" width="7" height="6" fill="#000"/>
<rect x="209" y="146" width="5" height="4" fill="#fff"/>
<rect x="228" y="127" width="1" height="17" fill="#000"/>
<rect x="225" y="132" width="7" height="11" fill="#000"/>
<rect x="237" y="125" width="1" height="12" fill="#000"/>
<rect x="234" y="134" width="7" height="2" fill="#000"/>
<rect x="242" y="122" width="7" height="2" fill="#000"/>
<rect x="314" y="118" width="1" height="10" fill="#000"/>
<rect x="311" y="120" width="7" height="4" fill="#000"/>
<rect x="320" y="128" width="7" height="1" fill="#000"/>
<rect x="323" y="128" width="1" height="16" fill="#000"/>
<rect x="337" y="131" width="7" height="9" fill="#000"/>
<rect x="518" y="74" width="7" height="12" fill="#000"/>
<rect x="519" y="75" width="5" height="10" fill="#fff"/>
<rect x="10" y="0" width="448" height="14" fill="#fff"/>
<rect x="10" y="13" width="672" height="15" fill="#fff"/>
<rect x="3" y="5" width="1" height="294" fill="#000"/>
<rect x="719" y="5" width="1" height="294" fill="#000"/>
<rect x="3" y="298" width="717" height="1" fill="#000"/>
<rect x="3" y="5" width="7" height="1" fill="#000"/>
<rect x="458" y="5" width="262" height="1" fill="#000"/>
<rect x="4" y="11" width="1" height="1" fill="#000"/>
<rect x="720" y="11" width="4" height="1" fill="#000"/>
<rect x="4" y="55" width="1" height="1" fill="#000"/>
<rect x="720" y="55" width="4" height="1" fill="#000"/>
<rect x="4" y="99" width="1" height="1" fill="#000"/>
<rect x="720" y="99" width="4" height="1" fill="#000"/>
<rect x="4" y="143" width="1" height="1" fill="#000"/>
<rect x="720" y="143" width="4" height="1" fill="#000"/>
<rect x="4" y="187" width="1" height="1" fill="#000"/>
<rect x="720" y="187" width="4" height="1" fill="#000"/>
<rect x="4" y="231" width="1" height="1" fill="#000"/>
<rect x="720" y="231" width="4" height="1" fill="#000"/>
<rect x="4" y="276" width="1" height="1" fill="#000"/>
<rect x="720" y="276" width="4" height="1" fill="#000"/>
<rect x="65" y="299" width="1" height="7" fill="#000"/>
<rect x="228" y="299" width="1" height="7" fill="#000"/>
<rect x="417" y="299" width="1" height="7" fill="#000"/>
<rect x="589" y="299" width="1" height="7" fill="#000"/>
<rect x="12" y="324" width="1" height="1" fill="#000"/>
<rect x="20" y="324" width="1" height="1" fill="#000"/>
<rect x="28" y="324" width="1" height="1" fill="#000"/>
<rect x="36" y="324" width="1" height="1" fill="#000"/>
<rect x="44" y="324" width="1" height="1" fill="#000"/>
<rect x="52" y="324" width="1" height="1" fill="#000"/>
<rect x="60" y="324" width="1" height="1" fill="#000"/>
<rect x="68" y="324" width="1" height="1" fill="#000"/>
<rect x="76" y="324" width="1" height="1" fill="#000"/>
<rect x="84" y="324" width="1" height="1" fill="#000"/>
<rect x="92" y="324" width="1" height="1" fill="#000"/>
<rect x="100" y="324" width="1" height="1" fill="#000"/>
<rect x="108" y="324" width="1" height="1" fill="#000"/>
<rect x="116" y="324" width="1" height="1" fill="#000"/>
<rect x="124" y="324" width="1" height="1" fill="#000"/>
<rect x="132" y="324" width="1" height="1" fill="#000"/>
<rect x="140" y="324" width="1" height="1" fill="#000"/>
<rect x="148" y="324" width="1" height="1" fill="#000"/>
<rect x="156" y="324" width="1" height="1" fill="#000"/>
<rect x="164" y="324" width="1" height="1" fill="#000"/>
<rect x="172" y="324" width="1" height="1" fill="#000"/>
<rect x="180" y="324" width="1" height="1" fill="#000"/>
<rect x="188" y="324" width="1" height="1" fill="#000"/>
<rect x="196" y="324" width="1" height="1" fill="#000"/>
<rect x="204" y="324" width="1" height="1" fill="#000"/>
<rect x="212" y="324" width="1" height="1" fill="#000"/>
<rect x="220" y="324" width="1" height="1" fill="#000"/>
<rect x="228" y="324" width="1" height="1" fill="#000"/>
<rect x="236" y="324" width="1" height="1" fill="#000"/>
<rect x="244" y="324" width="1" height="1" fill="#000"/>
<rect x="252" y="324" width="1" height="1" fill="#000"/>
<rect x="260" y="324" width="1" height="1" fill="#000"/>
<rect x="268" y="324" width="1" height="1" fill="#000"/>
<rect x="276" y="324" width="1" height="1" fill="#000"/>
<rect x="284" y="324" width="1" height="1" fill="#000"/>
<rect x="292" y="324" width="1" height="1" fill="#000"/>
<rect x="300" y="324" width="1" height="1" fill="#000"/>
<rect x="308" y="324" width="1" height="1" fill="#000"/>
<rect x="316" y="324" width="1" height="1" fill="#000"/>
<rect x="324" y="324" width="1" height="1" fill="#000"/>
<rect x="332" y="324" width="1" height="1" fill="#000"/>
<rect x="340" y="324" width="1" height="1" fill="#000"/>
<rect x="348" y="324" width="1" height="1" fill="#000"/>
<rect x="356" y="324" width="1" height="1" fill="#000"/>
<rect x="364" y="324" width="1" height="1" fill="#000"/>
<rect x="372" y="324" width="1" height="1" fill="#000"/>
<rect x="380" y="324" width="1" height="1" fill="#000"/>
<rect x="388" y="324" width="1" height="1" fill="#000"/>
<rect x="396" y="324" width="1" height="1" fill="#000"/>
<rect x="404" y="324" width="1" height="1" fill="#000"/>
<rect x="412" y="324" width="1" height="1" fill="#000"/>
<rect x="420" y="324" width="1" height="1" fill="#000"/>
<rect x="428" y="324" width="1" height="1" fill="#000"/>
<rect x="436" y="324" width="1" height="1" fill="#000"/>
<rect x="444" y="324" width="1" height="1" fill="#000"/>
<rect x="452" y="324" width="1" height="1" fill="#000"/>
<rect x="460" y="324" width="1" height="1" fill="#000"/>
<rect x="468" y="324" width="1" height="1" fill="#000"/>
<rect x="476" y="324" width="1" height="1" fill="#000"/>
<rect x="484" y="324" width="1" height="1" fill="#000"/>
<rect x="492" y="324" width="1" height="1" fill="#000"/>
<rect x="500" y="324" width="1" height="1" fill="#000"/>
<rect x="508" y="324" width="1" height="1" fill="#000"/>
<rect x="516" y="324" width="1" height="1" fill="#000"/>
<rect x="524" y="324" width="1" height="1" fill="#000"/>
<rect x="532" y="324" width="1" height="1" fill="#000"/>
<rect x="540" y="324" width="1" height="1" fill="#000"/>
<rect x="548" y="324" width="1" height="1" fill="#000"/>
<rect x="556" y="324" width="1" height="1" fill="#000"/>
<rect x="564" y="324" width="1" height="1" fill="#000"/>
<rect x="572" y="324" width="1" height="1" fill="#000"/>
<rect x="580" y="324" width="1" height="1" fill="#000"/>
<rect x="588" y="324" width="1" height="1" fill="#000"/>
<rect x="596" y="324" width="1" height="1" fill="#000"/>
<rect x="604" y="324" width="1" height="1" fill="#000"/>
<rect x="612" y="324" width="1" height="1" fill="#000"/>
<rect x="620" y="324" width="1" height="1" fill="#000"/>
<rect x="628" y="324" width="1" height="1" fill="#000"/>
<rect x="636" y="324" width="1" height="1" fill="#000"/>
<rect x="644" y="324" width="1" height="1" fill="#000"/>
<rect x="652" y="324" width="1" height="1" fill="#000"/>
<rect x="660" y="324" width="1" height="1" fill="#000"/>
<rect x="668" y="324" width="1" height="1" fill="#000"/>
<rect x="676" y="324" width="1" height="1" fill="#000"/>
<rect x="684" y="324" width="1" height="1" fill="#000"/>
<rect x="692" y="324" width="1" height="1" fill="#000"/>
<rect x="700" y="324" width="1" height="1" fill="#000"/>
<rect x="708" y="324" width="1" height="1" fill="#000"/>
<rect x="716" y="324" width="1" height="1" fill="#000"/>
<rect x="12" y="339" width="1" height="1" fill="#000"/>
<rect x="20" y="339" width="1" height="1" fill="#000"/>
<rect x="28" y="339" width="1" height="1" fill="#000"/>
<rect x="36" y="339" width="1" height="1" fill="#000"/>
<rect x="44" y="339" width="1" height="1" fill="#000"/>
<rect x="52" y="339" width="1" height="1" fill="#000"/>
<rect x="60" y="339" width="1" height="1" fill="#000"/>
<rect x="68" y="339" width="1" height="1" fill="#000"/>
<rect x="76" y="339" width="1" height="1" fill="#000"/>
<rect x="84" y="339" width="1" height="1" fill="#000"/>
<rect x="92" y="339" width="1" height="1" fill="#000"/>
<rect x="100" y="339" width="1" height="1" fill="#000"/>
<rect x="108" y="339" width="1" height="1" fill="#000"/>
<rect x="116" y="339" width="1" height="1" fill="#000"/>
<rect x="124" y="339" width="1" height="1" fill="#000"/>
<rect x="132" y="339" width="1" height="1" fill="#000"/>
<rect x="140" y="339" width="1" height="1" fill="#000"/>
<rect x="148" y="339" width="1" height="1" fill="#000"/>
<rect x="156" y="339" width="1" height="1" fill="#000"/>
<rect x="164" y="339" width="1" height="1" fill="#000"/>
<rect x="172" y="339" width="1" height="1" fill="#000"/>
<rect x="180" y="339" width="1" height="1" fill="#000"/>
<rect x="188" y="339" width="1" height="1" fill="#000"/>
<rect x="196" y="339" width="1" height="1" fill="#000"/>
<rect x="204" y="339" width="1" height="1" fill="#000"/>
<rect x="212" y="339" width="1" height="1" fill="#000"/>
<rect x="220" y="339" width="1" height="1" fill="#000"/>
<rect x="228" y="339" width="1" height="1" fill="#000"/>
<rect x="236" y="339" width="1" height="1" fill="#000"/>
<rect x="244" y="339" width="1" height="1" fill="#000"/>
<rect x="252" y="339" width="1" height="1" fill="#000"/>
<rect x="260" y="339" width="1" height="1" fill="#000"/>
<rect x="268" y="339" width="1" height="1" fill="#000"/>
<rect x="276" y="339" width="1" height="1" fill="#000"/>
<rect x="284" y="339" width="1" height="1" fill="#000"/>
<rect x="292" y="339" width="1" height="1" fill="#000"/>
<rect x="300" y="339" width="1" height="1" fill="#000"/>
<rect x="308" y="339" width="1" height="1" fill="#000"/>
<rect x="316" y="339" width="1" height="1" fill="#000"/>
<rect x="324" y="339" width="1" height="1" fill="#000"/>
<rect x="332" y="339" width="1" height="1" fill="#000"/>
<rect x="340" y="339" width="1" height="1" fill="#000"/>
<rect x="348" y="339" width="1" height="1" fill="#000"/>
<rect x="356" y="339" width="1" height="1" fill="#000"/>
<rect x="364" y="339" width="1" height="1" fill="#000"/>
<rect x="372" y="339" width="1" height="1" fill="#000"/>
<rect x="380" y="339" width="1" height="1" fill="#000"/>
<rect x="388" y="339" width="1" height="1" fill="#000"/>
<rect x="396" y="339" width="1" height="1" fill="#000"/>
<rect x="404" y="339" width="1" height="1" fill="#000"/>
<rect x="412" y="339" width="1" height="1" fill="#000"/>
<rect x="420" y="339" width="1" height="1" fill="#000"/>
<rect x="428" y="339" width="1" height="1" fill="#000"/>
<rect x="436" y="339" width="1" height="1" fill="#000"/>
<rect x="444" y="339" width="1" height="1" fill="#000"/>
<rect x="452" y="339" width="1" height="1" fill="#000"/>
<rect x="460" y="339" width="1" height="1" fill="#000"/>
<rect x="468" y="339" width="1" height="1" fill="#000"/>
<rect x="476" y="339" width="1" height="1" fill="#000"/>
<rect x="484" y="339" width="1" height="1" fill="#000"/>
<rect x="492" y="339" width="1" height="1" fill="#000"/>
<rect x="500" y="339" width="1" height="1" fill="#000"/>
<rect x="508" y="339" width="1" height="1" fill="#000"/>
<rect x="516" y="339" width="1" height="1" fill="#000"/>
<rect x="524" y="339" width="1" height="1" fill="#000"/>
<rect x="532" y="339" width="1" height="1" fill="#000"/>
<rect x="540" y="339" width="1" height="1" fill="#000"/>
<rect x="548" y="339" width="1" height="1" fill="#000"/>
<rect x="556" y="339" width="1" height="1" fill="#000"/>
<rect x="564" y="339" width="1" height="1" fill="#000"/>
<rect x="572" y="339" width="1" height="1" fill="#000"/>
<rect x="580" y="339" width="1" height="1" fill="#000"/>
<rect x="588" y="339" width="1" height="1" fill="#000"/>
<rect x="596" y="339" width="1" height="1" fill="#000"/>
<rect x="604" y="339" width="1" height="1" fill="#000"/>
<rect x="612" y="339" width="1" height="1" fill="#000"/>
<rect x="620" y="339" width="1" height="1" fill="#000"/>
<rect x="628" y="339" width="1" height="1" fill="#000"/>
<rect x="636" y="339" width="1" height="1" fill="#000"/>
<rect x="644" y="339" width="1" height="1" fill="#000"/>
<rect x="652" y="339" width="1" height="1" fill="#000"/>
<rect x="660" y="339" width="1" height="1" fill="#000"/>
<rect x="668" y="339" width="1" height="1" fill="#000"/>
<rect x="676" y="339" width="1" height="1" fill="#000"/>
<rect x="684" y="339" width="1" height="1" fill="#000"/>
<rect x="692" y="339" width="1" height="1" fill="#000"/>
<rect x="700" y="339" width="1" height="1" fill="#000"/>
<rect x="708" y="339" width="1" height="1" fill="#000"/>
<rect x="716" y="339" width="1" height="1" fill="#000"/>
<rect x="12" y="355" width="1" height="1" fill="#000"/>
<rect x="20" y="355" width="1" height="1" fill="#000"/>
<rect x="28" y="355" width="1" height="1" fill="#000"/>
<rect x="36" y="355" width="1" height="1" fill="#000"/>
<rect x="44" y="355" width="1" height="1" fill="#000"/>
<rect x="52" y="355" width="1" height="1" fill="#000"/>
<rect x="60" y="355" width="1" height="1" fill="#000"/>
<rect x="68" y="355" width="1" height="1" fill="#000"/>
<rect x="76" y="355" width="1" height="1" fill="#000"/>
<rect x="84" y="355" width="1" height="1" fill="#000"/>
<rect x="92" y="355" width="1" height="1" fill="#000"/>
<rect x="100" y="355" width="1" height="1" fill="#000"/>
<rect x="108" y="355" width="1" height="1" fill="#000"/>
<rect x="116" y="355" width="1" height="1" fill="#000"/>
<rect x="124" y="355" width="1" height="1" fill="#000"/>
<rect x="132" y="355" width="1" height="1" fill="#000"/>
<rect x="140" y="355" width="1" height="1" fill="#000"/>
<rect x="148" y="355" width="1" height="1" fill="#000"/>
<rect x="156" y="355" width="1" height="1" fill="#000"/>
<rect x="164" y="355" width="1" height="1" fill="#000"/>
<rect x="172" y="355" width="1" height="1" fill="#000"/>
<rect x="180" y="355" width="1" height="1" fill="#000"/>
<rect x="188" y="355" width="1" height="1" fill="#000"/>
<rect x="196" y="355" width="1" height="1" fill="#000"/>
<rect x="204" y="355" width="1" height="1" fill="#000"/>
<rect x="212" y="355" width="1" height="1" fill="#000"/>
<rect x="220" y="355" width="1" height="1" fill="#000"/>
<rect x="228" y="355" width="1" height="1" fill="#000"/>
<rect x="236" y="355" width="1" height="1" fill="#000"/>
<rect x="244" y="355" width="1" height="1" fill="#000"/>
<rect x="252" y="355" width="1" height="1" fill="#000"/>
<rect x="260" y="355" width="1" height="1" fill="#000"/>
<rect x="268" y="355" width="1" height="1" fill="#000"/>
<rect x="276" y="355" width="1" height="1" fill="#000"/>
<rect x="284" y="355" width="1" height="1" fill="#000"/>
<rect x="292" y="355" width="1" height="1" fill="#000"/>
<rect x="300" y="355" width="1" height="1" fill="#000"/>
<rect x="308" y="355" width="1" height="1" fill="#000"/>
<rect x="316" y="355" width="1" height="1" fill="#000"/>
<rect x="324" y="355" width="1" height="1" fill="#000"/>
<rect x="332" y="355" width="1" height="1" fill="#000"/>
<rect x="340" y="355" width="1" height="1" fill="#000"/>
<rect x="348" y="355" width="1" height="1" fill="#000"/>
<rect x="356" y="355" width="1" height="1" fill="#000"/>
<rect x="364" y="355" width="1" height="1" fill="#000"/>
<rect x="372" y="355" width="1" height="1" fill="#000"/>
<rect x="380" y="355" width="1" height="1" fill="#000"/>
<rect x="388" y="355" width="1" height="1" fill="#000"/>
<rect x="396" y="355" width="1" height="1" fill="#000"/>
<rect x="404" y="355" width="1" height="1" fill="#000"/>
<rect x="412" y="355" width="1" height="1" fill="#000"/>
<rect x="420" y="355" width="1" height="1" fill="#000"/>
<rect x="428" y="355" width="1" height="1" fill="#000"/>
<rect x="436" y="355" width="1" height="1" fill="#000"/>
<rect x="444" y="355" width="1" height="1" fill="#000"/>
<rect x="452" y="355" width="1" height="1" fill="#000"/>
<rect x="460" y="355" width="1" height="1" fill="#000"/>
<rect x="468" y="355" width="1" height="1" fill="#000"/>
<rect x="476" y="355" width="1" height="1" fill="#000"/>
<rect x="484" y="355" width="1" height="1" fill="#000"/>
<rect x="492" y="355" width="1" height="1" fill="#000"/>
<rect x="500" y="355" width="1" height="1" fill="#000"/>
<rect x="508" y="355" width="1" height="1" fill="#000"/>
<rect x="516" y="355" width="1" height="1" fill="#000"/>
<rect x="524" y="355" width="1" height="1" fill="#000"/>
<rect x="532" y="355" width="1" height="1" fill="#000"/>
<rect x="540" y="355" width="1" height="1" fill="#000"/>
<rect x="548" y="355" width="1" height="1" fill="#000"/>
<rect x="556" y="355" width="1" height="1" fill="#000"/>
<rect x="564" y="355" width="1" height="1" fill="#000"/>
<rect x="572" y="355" width="1" height="1" fill="#000"/>
<rect x="580" y="355" width="1" height="1" fill="#000"/>
<rect x="588" y="355" width="1" height="1" fill="#000"/>
<rect x="596" y="355" width="1" height="1" fill="#000"/>
<rect x="604" y="355" width="1" height="1" fill="#000"/>
<rect x="612" y="355" width="1" height="1" fill="#000"/>
<rect x="620" y="355" width="1" height="1" fill="#000"/>
<rect x="628" y="355" width="1" height="1" fill="#000"/>
<rect x="636" y="355" width="1" height="1" fill="#000"/>
<rect x="644" y="355" width="1" height="1" fill="#000"/>
<rect x="652" y="355" width="1" height="1" fill="#000"/>
<rect x="660" y="355" width="1" height="1" fill="#000"/>
<rect x="668" y="355" width="1" height="1" fill="#000"/>
<rect x="676" y="355" width="1" height="1" fill="#000"/>
<rect x="684" y="355" width="1" height="1" fill="#000"/>
<rect x="692" y="355" width="1" height="1" fill="#000"/>
<rect x="700" y="355" width="1" height="1" fill="#000"/>
<rect x="708" y="355" width="1" height="1" fill="#000"/>
<rect x="716" y="355" width="1" height="1" fill="#000"/>
<rect x="12" y="370" width="1" height="1" fill="#000"/>
<rect x="20" y="370" width="1" height="1" fill="#000"/>
<rect x="28" y="370" width="1" height="1" fill="#000"/>
<rect x="36" y="370" width="1" height="1" fill="#000"/>
<rect x="44" y="370" width="1" height="1" fill="#000"/>
<rect x="52" y="370" width="1" height="1" fill="#000"/>
<rect x="60" y="370" width="1" height="1" fill="#000"/>
<rect x="68" y="370" width="1" height="1" fill="#000"/>
<rect x="76" y="370" width="1" height="1" fill="#000"/>
<rect x="84" y="370" width="1" height="1" fill="#000"/>
<rect x="92" y="370" width="1" height="1" fill="#000"/>
<rect x="100" y="370" width="1" height="1" fill="#000"/>
<rect x="108" y="370" width="1" height="1" fill="#000"/>
<rect x="116" y="370" width="1" height="1" fill="#000"/>
<rect x="124" y="370" width="1" height="1" fill="#000"/>
<rect x="132" y="370" width="1" height="1" fill="#000"/>
<rect x="140" y="370" width="1" height="1" fill="#000"/>
<rect x="148" y="370" width="1" height="1" fill="#000"/>
<rect x="156" y="370" width="1" height="1" fill="#000"/>
<rect x="164" y="370" width="1" height="1" fill="#000"/>
<rect x="172" y="370" width="1" height="1" fill="#000"/>
<rect x="180" y="370" width="1" height="1" fill="#000"/>
<rect x="188" y="370" width="1" height="1" fill="#000"/>
<rect x="196" y="370" width="1" height="1" fill="#000"/>
<rect x="204" y="370" width="1" height="1" fill="#000"/>
<rect x="212" y="370" width="1" height="1" fill="#000"/>
<rect x="220" y="370" width="1" height="1" fill="#000"/>
<rect x="228" y="370" width="1" height="1" fill="#000"/>
<rect x="236" y="370" width="1" height="1" fill="#000"/>
<rect x="244" y="370" width="1" height="1" fill="#000"/>
<rect x="252" y="370" width="1" height="1" fill="#000"/>
<rect x="260" y="370" width="1" height="1" fill="#000"/>
<rect x="268" y="370" width="1" height="1" fill="#000"/>
<rect x="276" y="370" width="1" height="1" fill="#000"/>
<rect x="284" y="370" width="1" height="1" fill="#000"/>
<rect x="292" y="370" width="1" height="1" fill="#000"/>
<rect x="300" y="370" width="1" height="1" fill="#000"/>
<rect x="308" y="370" width="1" height="1" fill="#000"/>
<rect x="316" y="370" width="1" height="1" fill="#000"/>
<rect x="324" y="370" width="1" height="1" fill="#000"/>
<rect x="332" y="370" width="1" height="1" fill="#000"/>
<rect x="340" y="370" width="1" height="1" fill="#000"/>
<rect x="348" y="370" width="1" height="1" fill="#000"/>
<rect x="356" y="370" width="1" height="1" fill="#000"/>
<rect x="364" y="370" width="1" height="1" fill="#000"/>
<rect x="372" y="370" width="1" height="1" fill="#000"/>
<rect x="380" y="370" width="1" height="1" fill="#000"/>
<rect x="388" y="370" width="1" height="1" fill="#000"/>
<rect x="396" y="370" width="1" height="1" fill="#000"/>
<rect x="404" y="370" width="1" height="1" fill="#000"/>
<rect x="412" y="370" width="1" height="1" fill="#000"/>
<rect x="420" y="370" width="1" height="1" fill="#000"/>
<rect x="428" y="370" width="1" height="1" fill="#000"/>
<rect x="436" y="370" width="1" height="1" fill="#000"/>
<rect x="444" y="370" width="1" height="1" fill="#000"/>
<rect x="452" y="370" width="1" height="1" fill="#000"/>
<rect x="460" y="370" width="1" height="1" fill="#000"/>
<rect x="468" y="370" width="1" height="1" fill="#000"/>
<rect x="476" y="370" width="1" height="1" fill="#000"/>
<rect x="484" y="370" width="1" height="1" fill="#000"/>
<rect x="492" y="370" width="1" height="1" fill="#000"/>
<rect x="500" y="370" width="1" height="1" fill="#000"/>
<rect x="508" y="370" width="1" height="1" fill="#000"/>
<rect x="516" y="370" width="1" height="1" fill="#000"/>
<rect x="524" y="370" width="1" height="1" fill="#000"/>
<rect x="532" y="370" width="1" height="1" fill="#000"/>
<rect x="540" y="370" width="1" height="1" fill="#000"/>
<rect x="548" y="370" width="1" height="1" fill="#000"/>
<rect x="556" y="370" width="1" height="1" fill="#000"/>
<rect x="564" y="370" width="1" height="1" fill="#000"/>
<rect x="572" y="370" width="1" height="1" fill="#000"/>
<rect x="580" y="370" width="1" height="1" fill="#000"/>
<rect x="588" y="370" width="1" height="1" fill="#000"/>
<rect x="596" y="370" width="1" height="1" fill="#000"/>
<rect x="604" y="370" width="1" height="1" fill="#000"/>
<rect x="612" y="370" width="1" height="1" fill="#000"/>
<rect x="620" y="370" width="1" height="1" fill="#000"/>
<rect x="628" y="370" width="1" height="1" fill="#000"/>
<rect x="636" y="370" width="1" height="1" fill="#000"/>
<rect x="644" y="370" width="1" height="1" fill="#000"/>
<rect x="652" y="370" width="1" height="1" fill="#000"/>
<rect x="660" y="370" width="1" height="1" fill="#000"/>
<rect x="668" y="370" width="1" height="1" fill="#000"/>
<rect x="676" y="370" width="1" height="1" fill="#000"/>
<rect x="684" y="370" width="1" height="1" fill="#000"/>
<rect x="692" y="370" width="1" height="1" fill="#000"/>
<rect x="700" y="370" width="1" height="1" fill="#000"/>
<rect x="708" y="370" width="1" height="1" fill="#000"/>
<rect x="716" y="370" width="1" height="1" fill="#000"/>
<rect x="12" y="385" width="1" height="1" fill="#000"/>
<rect x="20" y="385" width="1" height="1" fill="#000"/>
<rect x="28" y="385" width="1" height="1" fill="#000"/>
<rect x="36" y="385" width="1" height="1" fill="#000"/>
<rect x="44" y="385" width="1" height="1" fill="#000"/>
<rect x="52" y="385" width="1" height="1" fill="#000"/>
<rect x="60" y="385" width="1" height="1" fill="#000"/>
<rect x="68" y="385" width="1" height="1" fill="#000"/>
<rect x="76" y="385" width="1" height="1" fill="#000"/>
<rect x="84" y="385" width="1" height="1" fill="#000"/>
<rect x="92" y="385" width="1" height="1" fill="#000"/>
<rect x="100" y="385" width="1" height="1" fill="#000"/>
<rect x="108" y="385" width="1" height="1" fill="#000"/>
<rect x="116" y="385" width="1" height="1" fill="#000"/>
<rect x="124" y="385" width="1" height="1" fill="#000"/>
<rect x="132" y="385" width="1" height="1" fill="#000"/>
<rect x="140" y="385" width="1" height="1" fill="#000"/>
<rect x="148" y="385" width="1" height="1" fill="#000"/>
<rect x="156" y="385" width="1" height="1" fill="#000"/>
<rect x="164" y="385" width="1" height="1" fill="#000"/>
<rect x="172" y="385" width="1" height="1" fill="#000"/>
<rect x="180" y="385" width="1" height="1" fill="#000"/>
<rect x="188" y="385" width="1" height="1" fill="#000"/>
<rect x="196" y="385" width="1" height="1" fill="#000"/>
<rect x="204" y="385" width="1" height="1" fill="#000"/>
<rect x="212" y="385" width="1" height="1" fill="#000"/>
<rect x="220" y="385" width="1" height="1" fill="#000"/>
<rect x="228" y="385" width="1" height="1" fill="#000"/>
<rect x="236" y="385" width="1" height="1" fill="#000"/>
<rect x="244" y="385" width="1" height="1" fill="#000"/>
<rect x="252" y="385" width="1" height="1" fill="#000"/>
<rect x="260" y="385" width="1" height="1" fill="#000"/>
<rect x="268" y="385" width="1" height="1" fill="#000"/>
<rect x="276" y="385" width="1" height="1" fill="#000"/>
<rect x="284" y="385" width="1" height="1" fill="#000"/>
<rect x="292" y="385" width="1" height="1" fill="#000"/>
<rect x="300" y="385" width="1" height="1" fill="#000"/>
<rect x="308" y="385" width="1" height="1" fill="#000"/>
<rect x="316" y="385" width="1" height="1" fill="#000"/>
<rect x="324" y="385" width="1" height="1" fill="#000"/>
<rect x="332" y="385" width="1" height="1" fill="#000"/>
<rect x="340" y="385" width="1" height="1" fill="#000"/>
<rect x="348" y="385" width="1" height="1" fill="#000"/>
<rect x="356" y="385" width="1" height="1" fill="#000"/>
<rect x="364" y="385" width="1" height="1" fill="#000"/>
<rect x="372" y="385" width="1" height="1" fill="#000"/>
<rect x="380" y="385" width="1" height="1" fill="#000"/>
<rect x="388" y="385" width="1" height="1" fill="#000"/>
<rect x="396" y="385" width="1" height="1" fill="#000"/>
<rect x="404" y="385" width="1" height="1" fill="#000"/>
<rect x="412" y="385" width="1" height="1" fill="#000"/>
<rect x="420" y="385" width="1" height="1" fill="#000"/>
<rect x="428" y="385" width="1" height="1" fill="#000"/>
<rect x="436" y="385" width="1" height="1" fill="#000"/>
<rect x="444" y="385" width="1" height="1" fill="#000"/>
<rect x="452" y="385" width="1" height="1" fill="#000"/>
<rect x="460" y="385" width="1" height="1" fill="#000"/>
<rect x="468" y="385" width="1" height="1" fill="#000"/>
<rect x="476" y="385" width="1" height="1" fill="#000"/>
<rect x="484" y="385" width="1" height="1" fill="#000"/>
<rect x="492" y="385" width="1" height="1" fill="#000"/>
<rect x="500" y="385" width="1" height="1" fill="#000"/>
<rect x="508" y="385" width="1" height="1" fill="#000"/>
<rect x="516" y="385" width="1" height="1" fill="#000"/>
<rect x="524" y="385" width="1" height="1" fill="#000"/>
<rect x="532" y="385" width="1" height="1" fill="#000"/>
<rect x="540" y="385" width="1" height="1" fill="#000"/>
<rect x="548" y="385" width="1" height="1" fill="#000"/>
<rect x="556" y="385" width="1" height="1" fill="#000"/>
<rect x="564" y="385" width="1" height="1" fill="#000"/>
<rect x="572" y="385" width="1" height="1" fill="#000"/>
<rect x="580" y="385" width="1" height="1" fill="#000"/>
<rect x="588" y="385" width="1" height="1" fill="#000"/>
<rect x="596" y="385" width="1" height="1" fill="#000"/>
<rect x="604" y="385" width="1" height="1" fill="#000"/>
<rect x="612" y="385" width="1" height="1" fill="#000"/>
<rect x="620" y="385" width="1" height="1" fill="#000"/>
<rect x="628" y="385" width="1" height="1" fill="#000"/>
<rect x="636" y="385" width="1" height="1" fill="#000"/>
<rect x="644" y="385" width="1" height="1" fill="#000"/>
<rect x="652" y="385" width="1" height="1" fill="#000"/>
<rect x="660" y="385" width="1" height="1" fill="#000"/>
<rect x="668" y="385" width="1" height="1" fill="#000"/>
<rect x="676" y="385" width="1" height="1" fill="#000"/>
<rect x="684" y="385" width="1" height="1" fill="#000"/>
<rect x="692" y="385" width="1" height="1" fill="#000"/>
<rect x="700" y="385" width="1" height="1" fill="#000"/>
<rect x="708" y="385" width="1" height="1" fill="#000"/>
<rect x="716" y="385" width="1" height="1" fill="#000"/>
<rect x="12" y="400" width="1" height="1" fill="#000"/>
<rect x="20" y="400" width="1" height="1" fill="#000"/>
<rect x="28" y="400" width="1" height="1" fill="#000"/>
<rect x="36" y="400" width="1" height="1" fill="#000"/>
<rect x="44" y="400" width="1" height="1" fill="#000"/>
<rect x="52" y="400" width="1" height="1" fill="#000"/>
<rect x="60" y="400" width="1" height="1" fill="#000"/>
<rect x="68" y="400" width="1" height="1" fill="#000"/>
<rect x="76" y="400" width="1" height="1" fill="#000"/>
<rect x="84" y="400" width="1" height="1" fill="#000"/>
<rect x="92" y="400" width="1" height="1" fill="#000"/>
<rect x="100" y="400" width="1" height="1" fill="#000"/>
<rect x="108" y="400" width="1" height="1" fill="#000"/>
<rect x="116" y="400" width="1" height="1" fill="#000"/>
<rect x="124" y="400" width="1" height="1" fill="#000"/>
<rect x="132" y="400" width="1" height="1" fill="#000"/>
<rect x="140" y="400" width="1" height="1" fill="#000"/>
<rect x="148" y="400" width="1" height="1" fill="#000"/>
<rect x="156" y="400" width="1" height="1" fill="#000"/>
<rect x="164" y="400" width="1" height="1" fill="#000"/>
<rect x="172" y="400" width="1" height="1" fill="#000"/>
<rect x="180" y="400" width="1" height="1" fill="#000"/>
<rect x="188" y="400" width="1" height="1" fill="#000"/>
<rect x="196" y="400" width="1" height="1" fill="#000"/>
<rect x="204" y="400" width="1" height="1" fill="#000"/>
<rect x="212" y="400" width="1" height="1" fill="#000"/>
<rect x="220" y="400" width="1" height="1" fill="#000"/>
<rect x="228" y="400" width="1" height="1" fill="#000"/>
<rect x="236" y="400" width="1" height="1" fill="#000"/>
<rect x="244" y="400" width="1" height="1" fill="#000"/>
<rect x="252" y="400" width="1" height="1" fill="#000"/>
<rect x="260" y="400" width="1" height="1" fill="#000"/>
<rect x="268" y="400" width="1" height="1" fill="#000"/>
<rect x="276" y="400" width="1" height="1" fill="#000"/>
<rect x="284" y="400" width="1" height="1" fill="#000"/>
<rect x="292" y="400" width="1" height="1" fill="#000"/>
<rect x="300" y="400" width="1" height="1" fill="#000"/>
<rect x="308" y="400" width="1" height="1" fill="#000"/>
<rect x="316" y="400" width="1" height="1" fill="#000"/>
<rect x="324" y="400" width="1" height="1" fill="#000"/>
<rect x="332" y="400" width="1" height="1" fill="#000"/>
<rect x="340" y="400" width="1" height="1" fill="#000"/>
<rect x="348" y="400" width="1" height="1" fill="#000"/>
<rect x="356" y="400" width="1" height="1" fill="#000"/>
<rect x="364" y="400" width="1" height="1" fill="#000"/>
<rect x="372" y="400" width="1" height="1" fill="#000"/>
<rect x="380" y="400" width="1" height="1" fill="#000"/>
<rect x="388" y="400" width="1" height="1" fill="#000"/>
<rect x="396" y="400" width="1" height="1" fill="#000"/>
<rect x="404" y="400" width="1" height="1" fill="#000"/>
<rect x="412" y="400" width="1" height="1" fill="#000"/>
<rect x="420" y="400" width="1" height="1" fill="#000"/>
<rect x="428" y="400" width="1" height="1" fill="#000"/>
<rect x="436" y="400" width="1" height="1" fill="#000"/>
<rect x="444" y="400" width="1" height="1" fill="#000"/>
<rect x="452" y="400" width="1" height="1" fill="#000"/>
<rect x="460" y="400" width="1" height="1" fill="#000"/>
<rect x="468" y="400" width="1" height="1" fill="#000"/>
<rect x="476" y="400" width="1" height="1" fill="#000"/>
<rect x="484" y="400" width="1" height="1" fill="#000"/>
<rect x="492" y="400" width="1" height="1" fill="#000"/>
<rect x="500" y="400" width="1" height="1" fill="#000"/>
<rect x="508" y="400" width="1" height="1" fill="#000"/>
<rect x="516" y="400" width="1" height="1" fill="#000"/>
<rect x="524" y="400" width="1" height="1" fill="#000"/>
<rect x="532" y="400" width="1" height="1" fill="#000"/>
<rect x="540" y="400" width="1" height="1" fill="#000"/>
<rect x="548" y="400" width="1" height="1" fill="#000"/>
<rect x="556" y="400" width="1" height="1" fill="#000"/>
<rect x="564" y="400" width="1" height="1" fill="#000"/>
<rect x="572" y="400" width="1" height="1" fill="#000"/>
<rect x="580" y="400" width="1" height="1" fill="#000"/>
<rect x="588" y="400" width="1" height="1" fill="#000"/>
<rect x="596" y="400" width="1" height="1" fill="#000"/>
<rect x="604" y="400" width="1" height="1" fill="#000"/>
<rect x="612" y="400" width="1" height="1" fill="#000"/>
<rect x="620" y="400" width="1" height="1" fill="#000"/>
<rect x="628" y="400" width="1" height="1" fill="#000"/>
<rect x="636" y="400" width="1" height="1" fill="#000"/>
<rect x="644" y="400" width="1" height="1" fill="#000"/>
<rect x="652" y="400" width="1" height="1" fill="#000"/>
<rect x="660" y="400" width="1" height="1" fill="#000"/>
<rect x="668" y="400" width="1" height="1" fill="#000"/>
<rect x="676" y="400" width="1" height="1" fill="#000"/>
<rect x="684" y="400" width="1" height="1" fill="#000"/>
<rect x="692" y="400" width="1" height="1" fill="#000"/>
<rect x="700" y="400" width="1" height="1" fill="#000"/>
<rect x="708" y="400" width="1" height="1" fill="#000"/>
<rect x="716" y="400" width="1" height="1" fill="#000"/>
<polyline points="177.5,410.5 185.5,411.5 194.5,411.5 202.5,408.5 211.5,404.5 220.5,394.5 228.5,385.5 237.5,375.5 245.5,365.5 254.5,356.5 263.5,343.5 271.5,337.5 280.5,337.5 288.5,339.5 297.5,342.5 306.5,349.5 314.5,354.5 323.5,361.5 331.5,368.5 340.5,374.5 349.5,377.5 357.5,374.5 366.5,370.5 374.5,369.5 383.5,368.5 392.5,367.5 400.5,365.5 409.5,365.5 417.5,361.5 426.5,359.5 435.5,357.5 443.5,360.5 452.5,363.5 460.5,365.5 469.5,365.5 478.5,365.5 486.5,367.5 495.5,365.5 503.5,365.5 512.5,373.5 521.5,377.5 529.5,378.5 538.5,379.5 546.5,380.5 555.5,381.5 564.5,380.5 572.5,379.5 581.5,379.5 589.5,378.5 598.5,372.5 607.5,374.5 615.5,381.5 624.5,380.5 632.5,379.5 641.5,381.5 650.5,383.5 658.5,389.5 667.5,394.5 675.5,398.5 684.5,396.5 693.5,395.5 700.5,389.4" fill="none" stroke="#808000" stroke-width="1" shape-rendering="crispEdges"/>
<polyline points="263.5,379.5 271.5,373.5 280.5,371.5 288.5,369.5 297.5,366.5 306.5,362.5 314.5,358.5 323.5,353.5 331.5,350.5 340.5,346.5 349.5,336.5 357.5,327.5 366.5,318.5 374.5,317.5 383.5,326.5 392.5,331.5 400.5,334.5 409.5,340.5 417.5,344.5 426.5,347.5 435.5,348.5 443.5,348.5 452.5,349.5 460.5,349.5 469.5,349.5 478.5,347.5 486.5,347.5 495.5,345.5 503.5,339.5 512.5,346.5 521.5,349.5 529.5,353.5 538.5,357.5 546.5,360.5 555.5,361.5 564.5,360.5 572.5,360.5 581.5,359.5 589.5,357.5 598.5,359.5 607.5,367.5 615.5,374.5 624.5,374.5 632.5,375.5 641.5,377.5 650.5,377.5 658.5,382.5 667.5,387.5 675.5,391.5 684.5,384.5 693.5,383.5 700.5,382.6" fill="none" stroke="#0000ff" stroke-width="1" shape-rendering="crispEdges"/>
<polyline points="263.5,383.5 271.5,374.5 280.5,368.5 288.5,362.5 297.5,359.5 306.5,357.5 314.5,356.5 323.5,357.5 331.5,359.5 340.5,362.5 349.5,364.5 357.5,366.5 366.5,367.5 374.5,368.5 383.5,368.5 392.5,367.5 400.5,367.5 409.5,367.5 417.5,366.5 426.5,364.5 435.5,363.5 443.5,361.5 452.5,363.5 460.5,363.5 469.5,363.5 478.5,364.5 486.5,364.5 495.5,364.5 503.5,364.5 512.5,366.5 521.5,368.5 529.5,370.5 538.5,371.5 546.5,373.5 555.5,374.5 564.5,375.5 572.5,376.5 581.5,377.5 589.5,377.5 598.5,376.5 607.5,376.5 615.5,377.5 624.5,377.5 632.5,378.5 641.5,378.5 650.5,379.5 658.5,381.5 667.5,383.5 675.5,386.5 684.5,388.5 693.5,389.5 700.5,389.5" fill="none" stroke="#808000" stroke-width="1" shape-rendering="crispEdges"/>
<rect x="262" y="382" width="3" height="3" fill="#808000"/>
<rect x="270" y="373" width="3" height="3" fill="#808000"/>
<rect x="279" y="367" width="3" height="3" fill="#808000"/>
<rect x="287" y="361" width="3" height="3" fill="#808000"/>
<rect x="296" y="358" width="3" height="3" fill="#808000"/>
<rect x="305" y="356" width="3" height="3" fill="#808000"/>
<rect x="313" y="355" width="3" height="3" fill="#808000"/>
<rect x="322" y="356" width="3" height="3" fill="#808000"/>
<rect x="330" y="358" width="3" height="3" fill="#808000"/>
<rect x="339" y="361" width="3" height="3" fill="#808000"/>
<rect x="348" y="363" width="3" height="3" fill="#808000"/>
<rect x="356" y="365" width="3" height="3" fill="#808000"/>
<rect x="365" y="366" width="3" height="3" fill="#808000"/>
<rect x="373" y="367" width="3" height="3" fill="#808000"/>
<rect x="382" y="367" width="3" height="3" fill="#808000"/>
<rect x="391" y="366" width="3" height="3" fill="#808000"/>
<rect x="399" y="366" width="3" height="3" fill="#808000"/>
<rect x="408" y="366" width="3" height="3" fill="#808000"/>
<rect x="416" y="365" width="3" height="3" fill="#808000"/>
<rect x="425" y="363" width="3" height="3" fill="#808000"/>
<rect x="434" y="362" width="3" height="3" fill="#808000"/>
<rect x="442" y="360" width="3" height="3" fill="#808000"/>
<rect x="451" y="362" width="3" height="3" fill="#808000"/>
<rect x="459" y="362" width="3" height="3" fill="#808000"/>
<rect x="468" y="362" width="3" height="3" fill="#808000"/>
<rect x="477" y="363" width="3" height="3" fill="#808000"/>
<rect x="485" y="363" width="3" height="3" fill="#808000"/>
<rect x="494" y="363" width="3" height="3" fill="#808000"/>
<rect x="502" y="363" width="3" height="3" fill="#808000"/>
<rect x="511" y="365" width="3" height="3" fill="#808000"/>
<rect x="520" y="367" width="3" height="3" fill="#808000"/>
<rect x="528" y="369" width="3" height="3" fill="#808000"/>
<rect x="537" y="370" width="3" height="3" fill="#808000"/>
<rect x="545" y="372" width="3" height="3" fill="#808000"/>
<rect x="554" y="373" width="3" height="3" fill="#808000"/>
<rect x="563" y="374" width="3" height="3" fill="#808000"/>
<rect x="571" y="375" width="3" height="3" fill="#808000"/>
<rect x="580" y="376" width="3" height="3" fill="#808000"/>
<rect x="588" y="376" width="3" height="3" fill="#808000"/>
<rect x="597" y="375" width="3" height="3" fill="#808000"/>
<rect x="606" y="375" width="3" height="3" fill="#808000"/>
<rect x="614" y="376" width="3" height="3" fill="#808000"/>
<rect x="623" y="376" width="3" height="3" fill="#808000"/>
<rect x="631" y="377" width="3" height="3" fill="#808000"/>
<rect x="640" y="377" width="3" height="3" fill="#808000"/>
<rect x="649" y="378" width="3" height="3" fill="#808000"/>
<rect x="657" y="380" width="3" height="3" fill="#808000"/>
<rect x="666" y="382" width="3" height="3" fill="#808000"/>
<rect x="674" y="385" width="3" height="3" fill="#808000"/>
<rect x="683" y="387" width="3" height="3" fill="#808000"/>
<rect x="692" y="388" width="3" height="3" fill="#808000"/>
<rect x="700" y="388" width="3" height="3" fill="#808000"/>
<polyline points="349.5,357.5 357.5,352.5 366.5,347.5 374.5,342.5 383.5,339.5 392.5,338.5 400.5,337.5 409.5,338.5 417.5,339.5 426.5,341.5 435.5,342.5 443.5,343.5 452.5,344.5 460.5,345.5 469.5,346.5 478.5,346.5 486.5,346.5 495.5,346.5 503.5,345.5 512.5,345.5 521.5,346.5 529.5,347.5 538.5,349.5 546.5,351.5 555.5,353.5 564.5,354.5 572.5,355.5 581.5,356.5 589.5,356.5 598.5,357.5 607.5,358.5 615.5,361.5 624.5,364.5 632.5,366.5 641.5,368.5 650.5,369.5 658.5,372.5 667.5,375.5 675.5,378.5 684.5,379.5 693.5,379.5 700.5,380.4" fill="none" stroke="#0000ff" stroke-width="1" shape-rendering="crispEdges"/>
<rect x="348" y="356" width="3" height="3" fill="#0000ff"/>
<rect x="356" y="351" width="3" height="3" fill="#0000ff"/>
<rect x="365" y="346" width="3" height="3" fill="#0000ff"/>
<rect x="373" y="341" width="3" height="3" fill="#0000ff"/>
<rect x="382" y="338" width="3" height="3" fill="#0000ff"/>
<rect x="391" y="337" width="3" height="3" fill="#0000ff"/>
<rect x="399" y="336" width="3" height="3" fill="#0000ff"/>
<rect x="408" y="337" width="3" height="3" fill="#0000ff"/>
<rect x="416" y="338" width="3" height="3" fill="#0000ff"/>
<rect x="425" y="340" width="3" height="3" fill="#0000ff"/>
<rect x="434" y="341" width="3" height="3" fill="#0000ff"/>
<rect x="442" y="342" width="3" height="3" fill="#0000ff"/>
<rect x="451" y="343" width="3" height="3" fill="#0000ff"/>
<rect x="459" y="344" width="3" height="3" fill="#0000ff"/>
<rect x="468" y="345" width="3" height="3" fill="#0000ff"/>
<rect x="477" y="345" width="3" height="3" fill="#0000ff"/>
<rect x="485" y="345" width="3" height="3" fill="#0000ff"/>
<rect x="494" y="345" width="3" height="3" fill="#0000ff"/>
<rect x="502" y="344" width="3" height="3" fill="#0000ff"/>
<rect x="511" y="344" width="3" height="3" fill="#0000ff"/>
<rect x="520" y="345" width="3" height="3" fill="#0000ff"/>
<rect x="528" y="346" width="3" height="3" fill="#0000ff"/>
<rect x="537" y="348" width="3" height="3" fill="#0000ff"/>
<rect x="545" y="350" width="3" height="3" fill="#0000ff"/>
<rect x="554" y="352" width="3" height="3" fill="#0000ff"/>
<rect x="563" y="353" width="3" height="3" fill="#0000ff"/>
<rect x="571" y="354" width="3" height="3" fill="#0000ff"/>
<rect x="580" y="355" width="3" height="3" fill="#0000ff"/>
<rect x="588" y="355" width="3" height="3" fill="#0000ff"/>
<rect x="597" y="356" width="3" height="3" fill="#0000ff"/>
<rect x="606" y="357" width="3" height="3" fill="#0000ff"/>
<rect x="614" y="360" width="3" height="3" fill="#0000ff"/>
<rect x="623" y="363" width="3" height="3" fill="#0000ff"/>
<rect x="631" y="365" width="3" height="3" fill="#0000ff"/>
<rect x="640" y="367" width="3" height="3" fill="#0000ff"/>
<rect x="649" y="368" width="3" height="3" fill="#0000ff"/>
<rect x="657" y="371" width="3" height="3" fill="#0000ff"/>
<rect x="666" y="374" width="3" height="3" fill="#0000ff"/>
<rect x="674" y="377" width="3" height="3" fill="#0000ff"/>
<rect x="683" y="378" width="3" height="3" fill="#0000ff"/>
<rect x="692" y="378" width="3" height="3" fill="#0000ff"/>
<rect x="700" y="379" width="3" height="3" fill="#0000ff"/>
<rect x="322" y="378" width="3" height="6" fill="#ff0000"/>
<rect x="319" y="384" width="9" height="1" fill="#ff0000"/>
<rect x="320" y="385" width="7" height="2" fill="#ff0000"/>
<rect x="321" y="387" width="5" height="2" fill="#ff0000"/>
<rect x="322" y="389" width="3" height="2" fill="#ff0000"/>
<rect x="323" y="391" width="1" height="2" fill="#ff0000"/>
<rect x="408" y="378" width="3" height="6" fill="#ff0000"/>
<rect x="405" y="384" width="9" height="1" fill="#ff0000"/>
<rect x="406" y="385" width="7" height="2" fill="#ff0000"/>
<rect x="407" y="387" width="5" height="2" fill="#ff0000"/>
<rect x="408" y="389" width="3" height="2" fill="#ff0000"/>
<rect x="409" y="391" width="1" height="2" fill="#ff0000"/>
<rect x="451" y="378" width="3" height="6" fill="#ff0000"/>
<rect x="448" y="384" width="9" height="1" fill="#ff0000"/>
<rect x="449" y="385" width="7" height="2" fill="#ff0000"/>
<rect x="450" y="387" width="5" height="2" fill="#ff0000"/>
<rect x="451" y="389" width="3" height="2" fill="#ff0000"/>
<rect x="452" y="391" width="1" height="2" fill="#ff0000"/>
<rect x="511" y="378" width="3" height="6" fill="#ff0000"/>
<rect x="508" y="384" width="9" height="1" fill="#ff0000"/>
<rect x="509" y="385" width="7" height="2" fill="#ff0000"/>
<rect x="510" y="387" width="5" height="2" fill="#ff0000"/>
<rect x="511" y="389" width="3" height="2" fill="#ff0000"/>
<rect x="512" y="391" width="1" height="2" fill="#ff0000"/>
<rect x="614" y="378" width="3" height="6" fill="#ff0000"/>
<rect x="611" y="384" width="9" height="1" fill="#ff0000"/>
<rect x="612" y="385" width="7" height="2" fill="#ff0000"/>
<rect x="613" y="387" width="5" height="2" fill="#ff0000"/>
<rect x="614" y="389" width="3" height="2" fill="#ff0000"/>
<rect x="615" y="391" width="1" height="2" fill="#ff0000"/>
<rect x="701" y="377" width="1" height="2" fill="#009900"/>
<rect x="700" y="379" width="3" height="2" fill="#009900"/>
<rect x="699" y="381" width="5" height="2" fill="#009900"/>
<rect x="698" y="383" width="7" height="2" fill="#009900"/>
<rect x="697" y="385" width="9" height="1" fill="#009900"/>
<rect x="700" y="386" width="3" height="6" fill="#009900"/>
<rect x="10" y="313" width="417" height="15" fill="#fff"/>
<rect x="3" y="319" width="1" height="95" fill="#000"/>
<rect x="719" y="319" width="1" height="95" fill="#000"/>
<rect x="3" y="413" width="717" height="1" fill="#000"/>
<rect x="3" y="319" width="7" height="1" fill="#000"/>
<rect x="427" y="319" width="293" height="1" fill="#000"/>
<rect x="4" y="324" width="1" height="1" fill="#000"/>
<rect x="720" y="324" width="4" height="1" fill="#000"/>
<rect x="4" y="339" width="1" height="1" fill="#000"/>
<rect x="720" y="339" width="4" height="1" fill="#000"/>
<rect x="4" y="355" width="1" height="1" fill="#000"/>
<rect x="720" y="355" width="4" height="1" fill="#000"/>
<rect x="4" y="370" width="1" height="1" fill="#000"/>
<rect x="720" y="370" width="4" height="1" fill="#000"/>
<rect x="4" y="385" width="1" height="1" fill="#000"/>
<rect x="720" y="385" width="4" height="1" fill="#000"/>
<rect x="4" y="400" width="1" height="1" fill="#000"/>
<rect x="720" y="400" width="4" height="1" fill="#000"/>
<rect x="12" y="430" width="1" height="1" fill="#000"/>
<rect x="20" y="430" width="1" height="1" fill="#000"/>
<rect x="28" y="430" width="1" height="1" fill="#000"/>
<rect x="36" y="430" width="1" height="1" fill="#000"/>
<rect x="44" y="430" width="1" height="1" fill="#000"/>
<rect x="52" y="430" width="1" height="1" fill="#000"/>
<rect x="60" y="430" width="1" height="1" fill="#000"/>
<rect x="68" y="430" width="1" height="1" fill="#000"/>
<rect x="76" y="430" width="1" height="1" fill="#000"/>
<rect x="84" y="430" width="1" height="1" fill="#000"/>
<rect x="92" y="430" width="1" height="1" fill="#000"/>
<rect x="100" y="430" width="1" height="1" fill="#000"/>
<rect x="108" y="430" width="1" height="1" fill="#000"/>
<rect x="116" y="430" width="1" height="1" fill="#000"/>
<rect x="124" y="430" width="1" height="1" fill="#000"/>
<rect x="132" y="430" width="1" height="1" fill="#000"/>
<rect x="140" y="430" width="1" height="1" fill="#000"/>
<rect x="148" y="430" width="1" height="1" fill="#000"/>
<rect x="156" y="430" width="1" height="1" fill="#000"/>
<rect x="164" y="430" width="1" height="1" fill="#000"/>
<rect x="172" y="430" width="1" height="1" fill="#000"/>
<rect x="180" y="430" width="1" height="1" fill="#000"/>
<rect x="188" y="430" width="1" height="1" fill="#000"/>
<rect x="196" y="430" width="1" height="1" fill="#000"/>
<rect x="204" y="430" width="1" height="1" fill="#000"/>
<rect x="212" y="430" width="1" height="1" fill="#000"/>
<rect x="220" y="430" width="1" height="1" fill="#000"/>
<rect x="228" y="430" width="1" height="1" fill="#000"/>
<rect x="236" y="430" width="1" height="1" fill="#000"/>
<rect x="244" y="430" width="1" height="1" fill="#000"/>
<rect x="252" y="430" width="1" height="1" fill="#000"/>
<rect x="260" y="430" width="1" height="1" fill="#000"/>
<rect x="268" y="430" width="1" height="1" fill="#000"/>
<rect x="276" y="430" width="1" height="1" fill="#000"/>
<rect x="284" y="430" width="1" height="1" fill="#000"/>
<rect x="292" y="430" width="1" height="1" fill="#000"/>
<rect x="300" y="430" width="1" height="1" fill="#000"/>
<rect x="308" y="430" width="1" height="1" fill="#000"/>
<rect x="316" y="430" width="1" height="1" fill="#000"/>
<rect x="324" y="430" width="1" height="1" fill="#000"/>
<rect x="332" y="430" width="1" height="1" fill="#000"/>
<rect x="340" y="430" width="1" height="1" fill="#000"/>
<rect x="348" y="430" width="1" height="1" fill="#000"/>
<rect x="356" y="430" width="1" height="1" fill="#000"/>
<rect x="364" y="430" width="1" height="1" fill="#000"/>
<rect x="372" y="430" width="1" height="1" fill="#000"/>
<rect x="380" y="430" width="1" height="1" fill="#000"/>
<rect x="388" y="430" width="1" height="1" fill="#000"/>
<rect x="396" y="430" width="1" height="1" fill="#000"/>
<rect x="404" y="430" width="1" height="1" fill="#000"/>
<rect x="412" y="430" width="1" height="1" fill="#000"/>
<rect x="420" y="430" width="1" height="1" fill="#000"/>
<rect x="428" y="430" width="1" height="1" fill="#000"/>
<rect x="436" y="430" width="1" height="1" fill="#000"/>
<rect x="444" y="430" width="1" height="1" fill="#000"/>
<rect x="452" y="430" width="1" height="1" fill="#000"/>
<rect x="460" y="430" width="1" height="1" fill="#000"/>
<rect x="468" y="430" width="1" height="1" fill="#000"/>
<rect x="476" y="430" width="1" height="1" fill="#000"/>
<rect x="484" y="430" width="1" height="1" fill="#000"/>
<rect x="492" y="430" width="1" height="1" fill="#000"/>
<rect x="500" y="430" width="1" height="1" fill="#000"/>
<rect x="508" y="430" width="1" height="1" fill="#000"/>
<rect x="516" y="430" width="1" height="1" fill="#000"/>
<rect x="524" y="430" width="1" height="1" fill="#000"/>
<rect x="532" y="430" width="1" height="1" fill="#000"/>
<rect x="540" y="430" width="1" height="1" fill="#000"/>
<rect x="548" y="430" width="1" height="1" fill="#000"/>
<rect x="556" y="430" width="1" height="1" fill="#000"/>
<rect x="564" y="430" width="1" height="1" fill="#000"/>
<rect x="572" y="430" width="1" height="1" fill="#000"/>
<rect x="580" y="430" width="1" height="1" fill="#000"/>
<rect x="588" y="430" width="1" height="1" fill="#000"/>
<rect x="596" y="430" width="1" height="1" fill="#000"/>
<rect x="604" y="430" width="1" height="1" fill="#000"/>
<rect x="612" y="430" width="1" height="1" fill="#000"/>
<rect x="620" y="430" width="1" height="1" fill="#000"/>
<rect x="628" y="430" width="1" height="1" fill="#000"/>
<rect x="636" y="430" width="1" height="1" fill="#000"/>
<rect x="644" y="430" width="1" height="1" fill="#000"/>
<rect x="652" y="430" width="1" height="1" fill="#000"/>
<rect x="660" y="430" width="1" height="1" fill="#000"/>
<rect x="668" y="430" width="1" height="1" fill="#000"/>
<rect x="676" y="430" width="1" height="1" fill="#000"/>
<rect x="684" y="430" width="1" height="1" fill="#000"/>
<rect x="692" y="430" width="1" height="1" fill="#000"/>
<rect x="700" y="430" width="1" height="1" fill="#000"/>
<rect x="708" y="430" width="1" height="1" fill="#000"/>
<rect x="716" y="430" width="1" height="1" fill="#000"/>
<rect x="12" y="476" width="1" height="1" fill="#000"/>
<rect x="20" y="476" width="1" height="1" fill="#000"/>
<rect x="28" y="476" width="1" height="1" fill="#000"/>
<rect x="36" y="476" width="1" height="1" fill="#000"/>
<rect x="44" y="476" width="1" height="1" fill="#000"/>
<rect x="52" y="476" width="1" height="1" fill="#000"/>
<rect x="60" y="476" width="1" height="1" fill="#000"/>
<rect x="68" y="476" width="1" height="1" fill="#000"/>
<rect x="76" y="476" width="1" height="1" fill="#000"/>
<rect x="84" y="476" width="1" height="1" fill="#000"/>
<rect x="92" y="476" width="1" height="1" fill="#000"/>
<rect x="100" y="476" width="1" height="1" fill="#000"/>
<rect x="108" y="476" width="1" height="1" fill="#000"/>
<rect x="116" y="476" width="1" height="1" fill="#000"/>
<rect x="124" y="476" width="1" height="1" fill="#000"/>
<rect x="132" y="476" width="1" height="1" fill="#000"/>
<rect x="140" y="476" width="1" height="1" fill="#000"/>
<rect x="148" y="476" width="1" height="1" fill="#000"/>
<rect x="156" y="476" width="1" height="1" fill="#000"/>
<rect x="164" y="476" width="1" height="1" fill="#000"/>
<rect x="172" y="476" width="1" height="1" fill="#000"/>
<rect x="180" y="476" width="1" height="1" fill="#000"/>
<rect x="188" y="476" width="1" height="1" fill="#000"/>
<rect x="196" y="476" width="1" height="1" fill="#000"/>
<rect x="204" y="476" width="1" height="1" fill="#000"/>
<rect x="212" y="476" width="1" height="1" fill="#000"/>
<rect x="220" y="476" width="1" height="1" fill="#000"/>
<rect x="228" y="476" width="1" height="1" fill="#000"/>
<rect x="236" y="476" width="1" height="1" fill="#000"/>
<rect x="244" y="476" width="1" height="1" fill="#000"/>
<rect x="252" y="476" width="1" height="1" fill="#000"/>
<rect x="260" y="476" width="1" height="1" fill="#000"/>
<rect x="268" y="476" width="1" height="1" fill="#000"/>
<rect x="276" y="476" width="1" height="1" fill="#000"/>
<rect x="284" y="476" width="1" height="1" fill="#000"/>
<rect x="292" y="476" width="1" height="1" fill="#000"/>
<rect x="300" y="476" width="1" height="1" fill="#000"/>
<rect x="308" y="476" width="1" height="1" fill="#000"/>
<rect x="316" y="476" width="1" height="1" fill="#000"/>
<rect x="324" y="476" width="1" height="1" fill="#000"/>
<rect x="332" y="476" width="1" height="1" fill="#000"/>
<rect x="340" y="476" width="1" height="1" fill="#000"/>
<rect x="348" y="476" width="1" height="1" fill="#000"/>
<rect x="356" y="476" width="1" height="1" fill="#000"/>
<rect x="364" y="476" width="1" height="1" fill="#000"/>
<rect x="372" y="476" width="1" height="1" fill="#000"/>
<rect x="380" y="476" width="1" height="1" fill="#000"/>
<rect x="388" y="476" width="1" height="1" fill="#000"/>
<rect x="396" y="476" width="1" height="1" fill="#000"/>
<rect x="404" y="476" width="1" height="1" fill="#000"/>
<rect x="412" y="476" width="1" height="1" fill="#000"/>
<rect x="420" y="476" width="1" height="1" fill="#000"/>
<rect x="428" y="476" width="1" height="1" fill="#000"/>
<rect x="436" y="476" width="1" height="1" fill="#000"/>
<rect x="444" y="476" width="1" height="1" fill="#000"/>
<rect x="452" y="476" width="1" height="1" fill="#000"/>
<rect x="460" y="476" width="1" height="1" fill="#000"/>
<rect x="468" y="476" width="1" height="1" fill="#000"/>
<rect x="476" y="476" width="1" height="1" fill="#000"/>
<rect x="484" y="476" width="1" height="1" fill="#000"/>
<rect x="492" y="476" width="1" height="1" fill="#000"/>
<rect x="500" y="476" width="1" height="1" fill="#000"/>
<rect x="508" y="476" width="1" height="1" fill="#000"/>
<rect x="516" y="476" width="1" height="1" fill="#000"/>
<rect x="524" y="476" width="1" height="1" fill="#000"/>
<rect x="532" y="476" width="1" height="1" fill="#000"/>
<rect x="540" y="476" width="1" height="1" fill="#000"/>
<rect x="548" y="476" width="1" height="1" fill="#000"/>
<rect x="556" y="476" width="1" height="1" fill="#000"/>
<rect x="564" y="476" width="1" height="1" fill="#000"/>
<rect x="572" y="476" width="1" height="1" fill="#000"/>
<rect x="580" y="476" width="1" height="1" fill="#000"/>
<rect x="588" y="476" width="1" height="1" fill="#000"/>
<rect x="596" y="476" width="1" height="1" fill="#000"/>
<rect x="604" y="476" width="1" height="1" fill="#000"/>
<rect x="612" y="476" width="1" height="1" fill="#000"/>
<rect x="620" y="476" width="1" height="1" fill="#000"/>
<rect x="628" y="476" width="1" height="1" fill="#000"/>
<rect x="636" y="476" width="1" height="1" fill="#000"/>
<rect x="644" y="476" width="1" height="1" fill="#000"/>
<rect x="652" y="476" width="1" height="1" fill="#000"/>
<rect x="660" y="476" width="1" height="1" fill="#000"/>
<rect x="668" y="476" width="1" height="1" fill="#000"/>
<rect x="676" y="476" width="1" height="1" fill="#000"/>
<rect x="684" y="476" width="1" height="1" fill="#000"/>
<rect x="692" y="476" width="1" height="1" fill="#000"/>
<rect x="700" y="476" width="1" height="1" fill="#000"/>
<rect x="708" y="476" width="1" height="1" fill="#000"/>
<rect x="716" y="476" width="1" height="1" fill="#000"/>
<rect x="12" y="522" width="1" height="1" fill="#000"/>
<rect x="20" y="522" width="1" height="1" fill="#000"/>
<rect x="28" y="522" width="1" height="1" fill="#000"/>
<rect x="36" y="522" width="1" height="1" fill="#000"/>
<rect x="44" y="522" width="1" height="1" fill="#000"/>
<rect x="52" y="522" width="1" height="1" fill="#000"/>
<rect x="60" y="522" width="1" height="1" fill="#000"/>
<rect x="68" y="522" width="1" height="1" fill="#000"/>
<rect x="76" y="522" width="1" height="1" fill="#000"/>
<rect x="84" y="522" width="1" height="1" fill="#000"/>
<rect x="92" y="522" width="1" height="1" fill="#000"/>
<rect x="100" y="522" width="1" height="1" fill="#000"/>
<rect x="108" y="522" width="1" height="1" fill="#000"/>
<rect x="116" y="522" width="1" height="1" fill="#000"/>
<rect x="124" y="522" width="1" height="1" fill="#000"/>
<rect x="132" y="522" width="1" height="1" fill="#000"/>
<rect x="140" y="522" width="1" height="1" fill="#000"/>
<rect x="148" y="522" width="1" height="1" fill="#000"/>
<rect x="156" y="522" width="1" height="1" fill="#000"/>
<rect x="164" y="522" width="1" height="1" fill="#000"/>
<rect x="172" y="522" width="1" height="1" fill="#000"/>
<rect x="180" y="522" width="1" height="1" fill="#000"/>
<rect x="188" y="522" width="1" height="1" fill="#000"/>
<rect x="196" y="522" width="1" height="1" fill="#000"/>
<rect x="204" y="522" width="1" height="1" fill="#000"/>
<rect x="212" y="522" width="1" height="1" fill="#000"/>
<rect x="220" y="522" width="1" height="1" fill="#000"/>
<rect x="228" y="522" width="1" height="1" fill="#000"/>
<rect x="236" y="522" width="1" height="1" fill="#000"/>
<rect x="244" y="522" width="1" height="1" fill="#000"/>
<rect x="252" y="522" width="1" height="1" fill="#000"/>
<rect x="260" y="522" width="1" height="1" fill="#000"/>
<rect x="268" y="522" width="1" height="1" fill="#000"/>
<rect x="276" y="522" width="1" height="1" fill="#000"/>
<rect x="284" y="522" width="1" height="1" fill="#000"/>
<rect x="292" y="522" width="1" height="1" fill="#000"/>
<rect x="300" y="522" width="1" height="1" fill="#000"/>
<rect x="308" y="522" width="1" height="1" fill="#000"/>
<rect x="316" y="522" width="1" height="1" fill="#000"/>
<rect x="324" y="522" width="1" height="1" fill="#000"/>
<rect x="332" y="522" width="1" height="1" fill="#000"/>
<rect x="340" y="522" width="1" height="1" fill="#000"/>
<rect x="348" y="522" width="1" height="1" fill="#000"/>
<rect x="356" y="522" width="1" height="1" fill="#000"/>
<rect x="364" y="522" width="1" height="1" fill="#000"/>
<rect x="372" y="522" width="1" height="1" fill="#000"/>
<rect x="380" y="522" width="1" height="1" fill="#000"/>
<rect x="388" y="522" width="1" height="1" fill="#000"/>
<rect x="396" y="522" width="1" height="1" fill="#000"/>
<rect x="404" y="522" width="1" height="1" fill="#000"/>
<rect x="412" y="522" width="1" height="1" fill="#000"/>
<rect x="420" y="522" width="1" height="1" fill="#000"/>
<rect x="428" y="522" width="1" height="1" fill="#000"/>
<rect x="436" y="522" width="1" height="1" fill="#000"/>
<rect x="444" y="522" width="1" height="1" fill="#000"/>
<rect x="452" y="522" width="1" height="1" fill="#000"/>
<rect x="460" y="522" width="1" height="1" fill="#000"/>
<rect x="468" y="522" width="1" height="1" fill="#000"/>
<rect x="476" y="522" width="1" height="1" fill="#000"/>
<rect x="484" y="522" width="1" height="1" fill="#000"/>
<rect x="492" y="522" width="1" height="1" fill="#000"/>
<rect x="500" y="522" width="1" height="1" fill="#000"/>
<rect x="508" y="522" width="1" height="1" fill="#000"/>
<rect x="516" y="522" width="1" height="1" fill="#000"/>
<rect x="524" y="522" width="1" height="1" fill="#000"/>
<rect x="532" y="522" width="1" height="1" fill="#000"/>
<rect x="540" y="522" width="1" height="1" fill="#000"/>
<rect x="548" y="522" width="1" height="1" fill="#000"/>
<rect x="556" y="522" width="1" height="1" fill="#000"/>
<rect x="564" y="522" width="1" height="1" fill="#000"/>
<rect x="572" y="522" width="1" height="1" fill="#000"/>
<rect x="580" y="522" width="1" height="1" fill="#000"/>
<rect x="588" y="522" width="1" height="1" fill="#000"/>
<rect x="596" y="522" width="1" height="1" fill="#000"/>
<rect x="604" y="522" width="1" height="1" fill="#000"/>
<rect x="612" y="522" width="1" height="1" fill="#000"/>
<rect x="620" y="522" width="1" height="1" fill="#000"/>
<rect x="628" y="522" width="1" height="1" fill="#000"/>
<rect x="636" y="522" width="1" height="1" fill="#000"/>
<rect x="644" y="522" width="1" height="1" fill="#000"/>
<rect x="652" y="522" width="1" height="1" fill="#000"/>
<rect x="660" y="522" width="1" height="1" fill="#000"/>
<rect x="668" y="522" width="1" height="1" fill="#000"/>
<rect x="676" y="522" width="1" height="1" fill="#000"/>
<rect x="684" y="522" width="1" height="1" fill="#000"/>
<rect x="692" y="522" width="1" height="1" fill="#000"/>
<rect x="700" y="522" width="1" height="1" fill="#000"/>
<rect x="708" y="522" width="1" height="1" fill="#000"/>
<rect x="716" y="522" width="1" height="1" fill="#000"/>
<rect x="12" y="568" width="1" height="1" fill="#000"/>
<rect x="20" y="568" width="1" height="1" fill="#000"/>
<rect x="28" y="568" width="1" height="1" fill="#000"/>
<rect x="36" y="568" width="1" height="1" fill="#000"/>
<rect x="44" y="568" width="1" height="1" fill="#000"/>
<rect x="52" y="568" width="1" height="1" fill="#000"/>
<rect x="60" y="568" width="1" height="1" fill="#000"/>
<rect x="68" y="568" width="1" height="1" fill="#000"/>
<rect x="76" y="568" width="1" height="1" fill="#000"/>
<rect x="84" y="568" width="1" height="1" fill="#000"/>
<rect x="92" y="568" width="1" height="1" fill="#000"/>
<rect x="100" y="568" width="1" height="1" fill="#000"/>
<rect x="108" y="568" width="1" height="1" fill="#000"/>
<rect x="116" y="568" width="1" height="1" fill="#000"/>
<rect x="124" y="568" width="1" height="1" fill="#000"/>
<rect x="132" y="568" width="1" height="1" fill="#000"/>
<rect x="140" y="568" width="1" height="1" fill="#000"/>
<rect x="148" y="568" width="1" height="1" fill="#000"/>
<rect x="156" y="568" width="1" height="1" fill="#000"/>
<rect x="164" y="568" width="1" height="1" fill="#000"/>
<rect x="172" y="568" width="1" height="1" fill="#000"/>
<rect x="180" y="568" width="1" height="1" fill="#000"/>
<rect x="188" y="568" width="1" height="1" fill="#000"/>
<rect x="196" y="568" width="1" height="1" fill="#000"/>
<rect x="204" y="568" width="1" height="1" fill="#000"/>
<rect x="212" y="568" width="1" height="1" fill="#000"/>
<rect x="220" y="568" width="1" height="1" fill="#000"/>
<rect x="228" y="568" width="1" height="1" fill="#000"/>
<rect x="236" y="568" width="1" height="1" fill="#000"/>
<rect x="244" y="568" width="1" height="1" fill="#000"/>
<rect x="252" y="568" width="1" height="1" fill="#000"/>
<rect x="260" y="568" width="1" height="1" fill="#000"/>
<rect x="268" y="568" width="1" height="1" fill="#000"/>
<rect x="276" y="568" width="1" height="1" fill="#000"/>
<rect x="284" y="568" width="1" height="1" fill="#000"/>
<rect x="292" y="568" width="1" height="1" fill="#000"/>
<rect x="300" y="568" width="1" height="1" fill="#000"/>
<rect x="308" y="568" width="1" height="1" fill="#000"/>
<rect x="316" y="568" width="1" height="1" fill="#000"/>
<rect x="324" y="568" width="1" height="1" fill="#000"/>
<rect x="332" y="568" width="1" height="1" fill="#000"/>
<rect x="340" y="568" width="1" height="1" fill="#000"/>
<rect x="348" y="568" width="1" height="1" fill="#000"/>
<rect x="356" y="568" width="1" height="1" fill="#000"/>
<rect x="364" y="568" width="1" height="1" fill="#000"/>
<rect x="372" y="568" width="1" height="1" fill="#000"/>
<rect x="380" y="568" width="1" height="1" fill="#000"/>
<rect x="388" y="568" width="1" height="1" fill="#000"/>
<rect x="396" y="568" width="1" height="1" fill="#000"/>
<rect x="404" y="568" width="1" height="1" fill="#000"/>
<rect x="412" y="568" width="1" height="1" fill="#000"/>
<rect x="420" y="568" width="1" height="1" fill="#000"/>
<rect x="428" y="568" width="1" height="1" fill="#000"/>
<rect x="436" y="568" width="1" height="1" fill="#000"/>
<rect x="444" y="568" width="1" height="1" fill="#000"/>
<rect x="452" y="568" width="1" height="1" fill="#000"/>
<rect x="460" y="568" width="1" height="1" fill="#000"/>
<rect x="468" y="568" width="1" height="1" fill="#000"/>
<rect x="476" y="568" width="1" height="1" fill="#000"/>
<rect x="484" y="568" width="1" height="1" fill="#000"/>
<rect x="492" y="568" width="1" height="1" fill="#000"/>
<rect x="500" y="568" width="1" height="1" fill="#000"/>
<rect x="508" y="568" width="1" height="1" fill="#000"/>
<rect x="516" y="568" width="1" height="1" fill="#000"/>
<rect x="524" y="568" width="1" height="1" fill="#000"/>
<rect x="532" y="568" width="1" height="1" fill="#000"/>
<rect x="540" y="568" width="1" height="1" fill="#000"/>
<rect x="548" y="568" width="1" height="1" fill="#000"/>
<rect x="556" y="568" width="1" height="1" fill="#000"/>
<rect x="564" y="568" width="1" height="1" fill="#000"/>
<rect x="572" y="568" width="1" height="1" fill="#000"/>
<rect x="580" y="568" width="1" height="1" fill="#000"/>
<rect x="588" y="568" width="1" height="1" fill="#000"/>
<rect x="596" y="568" width="1" height="1" fill="#000"/>
<rect x="604" y="568" width="1" height="1" fill="#000"/>
<rect x="612" y="568" width="1" height="1" fill="#000"/>
<rect x="620" y="568" width="1" height="1" fill="#000"/>
<rect x="628" y="568" width="1" height="1" fill="#000"/>
<rect x="636" y="568" width="1" height="1" fill="#000"/>
<rect x="644" y="568" width="1" height="1" fill="#000"/>
<rect x="652" y="568" width="1" height="1" fill="#000"/>
<rect x="660" y="568" width="1" height="1" fill="#000"/>
<rect x="668" y="568" width="1" height="1" fill="#000"/>
<rect x="676" y="568" width="1" height="1" fill="#000"/>
<rect x="684" y="568" width="1" height="1" fill="#000"/>
<rect x="692" y="568" width="1" height="1" fill="#000"/>
<rect x="700" y="568" width="1" height="1" fill="#000"/>
<rect x="708" y="568" width="1" height="1" fill="#000"/>
<rect x="716" y="568" width="1" height="1" fill="#000"/>
<rect x="12" y="615" width="1" height="1" fill="#000"/>
<rect x="20" y="615" width="1" height="1" fill="#000"/>
<rect x="28" y="615" width="1" height="1" fill="#000"/>
<rect x="36" y="615" width="1" height="1" fill="#000"/>
<rect x="44" y="615" width="1" height="1" fill="#000"/>
<rect x="52" y="615" width="1" height="1" fill="#000"/>
<rect x="60" y="615" width="1" height="1" fill="#000"/>
<rect x="68" y="615" width="1" height="1" fill="#000"/>
<rect x="76" y="615" width="1" height="1" fill="#000"/>
<rect x="84" y="615" width="1" height="1" fill="#000"/>
<rect x="92" y="615" width="1" height="1" fill="#000"/>
<rect x="100" y="615" width="1" height="1" fill="#000"/>
<rect x="108" y="615" width="1" height="1" fill="#000"/>
<rect x="116" y="615" width="1" height="1" fill="#000"/>
<rect x="124" y="615" width="1" height="1" fill="#000"/>
<rect x="132" y="615" width="1" height="1" fill="#000"/>
<rect x="140" y="615" width="1" height="1" fill="#000"/>
<rect x="148" y="615" width="1" height="1" fill="#000"/>
<rect x="156" y="615" width="1" height="1" fill="#000"/>
<rect x="164" y="615" width="1" height="1" fill="#000"/>
<rect x="172" y="615" width="1" height="1" fill="#000"/>
<rect x="180" y="615" width="1" height="1" fill="#000"/>
<rect x="188" y="615" width="1" height="1" fill="#000"/>
<rect x="196" y="615" width="1" height="1" fill="#000"/>
<rect x="204" y="615" width="1" height="1" fill="#000"/>
<rect x="212" y="615" width="1" height="1" fill="#000"/>
<rect x="220" y="615" width="1" height="1" fill="#000"/>
<rect x="228" y="615" width="1" height="1" fill="#000"/>
<rect x="236" y="615" width="1" height="1" fill="#000"/>
<rect x="244" y="615" width="1" height="1" fill="#000"/>
<rect x="252" y="615" width="1" height="1" fill="#000"/>
<rect x="260" y="615" width="1" height="1" fill="#000"/>
<rect x="268" y="615" width="1" height="1" fill="#000"/>
<rect x="276" y="615" width="1" height="1" fill="#000"/>
<rect x="284" y="615" width="1" height="1" fill="#000"/>
<rect x="292" y="615" width="1" height="1" fill="#000"/>
<rect x="300" y="615" width="1" height="1" fill="#000"/>
<rect x="308" y="615" width="1" height="1" fill="#000"/>
<rect x="316" y="615" width="1" height="1" fill="#000"/>
<rect x="324" y="615" width="1" height="1" fill="#000"/>
<rect x="332" y="615" width="1" height="1" fill="#000"/>
<rect x="340" y="615" width="1" height="1" fill="#000"/>
<rect x="348" y="615" width="1" height="1" fill="#000"/>
<rect x="356" y="615" width="1" height="1" fill="#000"/>
<rect x="364" y="615" width="1" height="1" fill="#000"/>
<rect x="372" y="615" width="1" height="1" fill="#000"/>
<rect x="380" y="615" width="1" height="1" fill="#000"/>
<rect x="388" y="615" width="1" height="1" fill="#000"/>
<rect x="396" y="615" width="1" height="1" fill="#000"/>
<rect x="404" y="615" width="1" height="1" fill="#000"/>
<rect x="412" y="615" width="1" height="1" fill="#000"/>
<rect x="420" y="615" width="1" height="1" fill="#000"/>
<rect x="428" y="615" width="1" height="1" fill="#000"/>
<rect x="436" y="615" width="1" height="1" fill="#000"/>
<rect x="444" y="615" width="1" height="1" fill="#000"/>
<rect x="452" y="615" width="1" height="1" fill="#000"/>
<rect x="460" y="615" width="1" height="1" fill="#000"/>
<rect x="468" y="615" width="1" height="1" fill="#000"/>
<rect x="476" y="615" width="1" height="1" fill="#000"/>
<rect x="484" y="615" width="1" height="1" fill="#000"/>
<rect x="492" y="615" width="1" height="1" fill="#000"/>
<rect x="500" y="615" width="1" height="1" fill="#000"/>
<rect x="508" y="615" width="1" height="1" fill="#000"/>
<rect x="516" y="615" width="1" height="1" fill="#000"/>
<rect x="524" y="615" width="1" height="1" fill="#000"/>
<rect x="532" y="615" width="1" height="1" fill="#000"/>
<rect x="540" y="615" width="1" height="1" fill="#000"/>
<rect x="548" y="615" width="1" height="1" fill="#000"/>
<rect x="556" y="615" width="1" height="1" fill="#000"/>
<rect x="564" y="615" width="1" height="1" fill="#000"/>
<rect x="572" y="615" width="1" height="1" fill="#000"/>
<rect x="580" y="615" width="1" height="1" fill="#000"/>
<rect x="588" y="615" width="1" height="1" fill="#000"/>
<rect x="596" y="615" width="1" height="1" fill="#000"/>
<rect x="604" y="615" width="1" height="1" fill="#000"/>
<rect x="612" y="615" width="1" height="1" fill="#000"/>
<rect x="620" y="615" width="1" height="1" fill="#000"/>
<rect x="628" y="615" width="1" height="1" fill="#000"/>
<rect x="636" y="615" width="1" height="1" fill="#000"/>
<rect x="644" y="615" width="1" height="1" fill="#000"/>
<rect x="652" y="615" width="1" height="1" fill="#000"/>
<rect x="660" y="615" width="1" height="1" fill="#000"/>
<rect x="668" y="615" width="1" height="1" fill="#000"/>
<rect x="676" y="615" width="1" height="1" fill="#000"/>
<rect x="684" y="615" width="1" height="1" fill="#000"/>
<rect x="692" y="615" width="1" height="1" fill="#000"/>
<rect x="700" y="615" width="1" height="1" fill="#000"/>
<rect x="708" y="615" width="1" height="1" fill="#000"/>
<rect x="716" y="615" width="1" height="1" fill="#000"/>
<rect x="12" y="661" width="1" height="1" fill="#000"/>
<rect x="20" y="661" width="1" height="1" fill="#000"/>
<rect x="28" y="661" width="1" height="1" fill="#000"/>
<rect x="36" y="661" width="1" height="1" fill="#000"/>
<rect x="44" y="661" width="1" height="1" fill="#000"/>
<rect x="52" y="661" width="1" height="1" fill="#000"/>
<rect x="60" y="661" width="1" height="1" fill="#000"/>
<rect x="68" y="661" width="1" height="1" fill="#000"/>
<rect x="76" y="661" width="1" height="1" fill="#000"/>
<rect x="84" y="661" width="1" height="1" fill="#000"/>
<rect x="92" y="661" width="1" height="1" fill="#000"/>
<rect x="100" y="661" width="1" height="1" fill="#000"/>
<rect x="108" y="661" width="1" height="1" fill="#000"/>
<rect x="116" y="661" width="1" height="1" fill="#000"/>
<rect x="124" y="661" width="1" height="1" fill="#000"/>
<rect x="132" y="661" width="1" height="1" fill="#000"/>
<rect x="140" y="661" width="1" height="1" fill="#000"/>
<rect x="148" y="661" width="1" height="1" fill="#000"/>
<rect x="156" y="661" width="1" height="1" fill="#000"/>
<rect x="164" y="661" width="1" height="1" fill="#000"/>
<rect x="172" y="661" width="1" height="1" fill="#000"/>
<rect x="180" y="661" width="1" height="1" fill="#000"/>
<rect x="188" y="661" width="1" height="1" fill="#000"/>
<rect x="196" y="661" width="1" height="1" fill="#000"/>
<rect x="204" y="661" width="1" height="1" fill="#000"/>
<rect x="212" y="661" width="1" height="1" fill="#000"/>
<rect x="220" y="661" width="1" height="1" fill="#000"/>
<rect x="228" y="661" width="1" height="1" fill="#000"/>
<rect x="236" y="661" width="1" height="1" fill="#000"/>
<rect x="244" y="661" width="1" height="1" fill="#000"/>
<rect x="252" y="661" width="1" height="1" fill="#000"/>
<rect x="260" y="661" width="1" height="1" fill="#000"/>
<rect x="268" y="661" width="1" height="1" fill="#000"/>
<rect x="276" y="661" width="1" height="1" fill="#000"/>
<rect x="284" y="661" width="1" height="1" fill="#000"/>
<rect x="292" y="661" width="1" height="1" fill="#000"/>
<rect x="300" y="661" width="1" height="1" fill="#000"/>
<rect x="308" y="661" width="1" height="1" fill="#000"/>
<rect x="316" y="661" width="1" height="1" fill="#000"/>
<rect x="324" y="661" width="1" height="1" fill="#000"/>
<rect x="332" y="661" width="1" height="1" fill="#000"/>
<rect x="340" y="661" width="1" height="1" fill="#000"/>
<rect x="348" y="661" width="1" height="1" fill="#000"/>
<rect x="356" y="661" width="1" height="1" fill="#000"/>
<rect x="364" y="661" width="1" height="1" fill="#000"/>
<rect x="372" y="661" width="1" height="1" fill="#000"/>
<rect x="380" y="661" width="1" height="1" fill="#000"/>
<rect x="388" y="661" width="1" height="1" fill="#000"/>
<rect x="396" y="661" width="1" height="1" fill="#000"/>
<rect x="404" y="661" width="1" height="1" fill="#000"/>
<rect x="412" y="661" width="1" height="1" fill="#000"/>
<rect x="420" y="661" width="1" height="1" fill="#000"/>
<rect x="428" y="661" width="1" height="1" fill="#000"/>
<rect x="436" y="661" width="1" height="1" fill="#000"/>
<rect x="444" y="661" width="1" height="1" fill="#000"/>
<rect x="452" y="661" width="1" height="1" fill="#000"/>
<rect x="460" y="661" width="1" height="1" fill="#000"/>
<rect x="468" y="661" width="1" height="1" fill="#000"/>
<rect x="476" y="661" width="1" height="1" fill="#000"/>
<rect x="484" y="661" width="1" height="1" fill="#000"/>
<rect x="492" y="661" width="1" height="1" fill="#000"/>
<rect x="500" y="661" width="1" height="1" fill="#000"/>
<rect x="508" y="661" width="1" height="1" fill="#000"/>
<rect x="516" y="661" width="1" height="1" fill="#000"/>
<rect x="524" y="661" width="1" height="1" fill="#000"/>
<rect x="532" y="661" width="1" height="1" fill="#000"/>
<rect x="540" y="661" width="1" height="1" fill="#000"/>
<rect x="548" y="661" width="1" height="1" fill="#000"/>
<rect x="556" y="661" width="1" height="1" fill="#000"/>
<rect x="564" y="661" width="1" height="1" fill="#000"/>
<rect x="572" y="661" width="1" height="1" fill="#000"/>
<rect x="580" y="661" width="1" height="1" fill="#000"/>
<rect x="588" y="661" width="1" height="1" fill="#000"/>
<rect x="596" y="661" width="1" height="1" fill="#000"/>
<rect x="604" y="661" width="1" height="1" fill="#000"/>
<rect x="612" y="661" width="1" height="1" fill="#000"/>
<rect x="620" y="661" width="1" height="1" fill="#000"/>
<rect x="628" y="661" width="1" height="1" fill="#000"/>
<rect x="636" y="661" width="1" height="1" fill="#000"/>
<rect x="644" y="661" width="1" height="1" fill="#000"/>
<rect x="652" y="661" width="1" height="1" fill="#000"/>
<rect x="660" y="661" width="1" height="1" fill="#000"/>
<rect x="668" y="661" width="1" height="1" fill="#000"/>
<rect x="676" y="661" width="1" height="1" fill="#000"/>
<rect x="684" y="661" width="1" height="1" fill="#000"/>
<rect x="692" y="661" width="1" height="1" fill="#000"/>
<rect x="700" y="661" width="1" height="1" fill="#000"/>
<rect x="708" y="661" width="1" height="1" fill="#000"/>
<rect x="716" y="661" width="1" height="1" fill="#000"/>
<rect x="12" y="707" width="1" height="1" fill="#000"/>
<rect x="20" y="707" width="1" height="1" fill="#000"/>
<rect x="28" y="707" width="1" height="1" fill="#000"/>
<rect x="36" y="707" width="1" height="1" fill="#000"/>
<rect x="44" y="707" width="1" height="1" fill="#000"/>
<rect x="52" y="707" width="1" height="1" fill="#000"/>
<rect x="60" y="707" width="1" height="1" fill="#000"/>
<rect x="68" y="707" width="1" height="1" fill="#000"/>
<rect x="76" y="707" width="1" height="1" fill="#000"/>
<rect x="84" y="707" width="1" height="1" fill="#000"/>
<rect x="92" y="707" width="1" height="1" fill="#000"/>
<rect x="100" y="707" width="1" height="1" fill="#000"/>
<rect x="108" y="707" width="1" height="1" fill="#000"/>
<rect x="116" y="707" width="1" height="1" fill="#000"/>
<rect x="124" y="707" width="1" height="1" fill="#000"/>
<rect x="132" y="707" width="1" height="1" fill="#000"/>
<rect x="140" y="707" width="1" height="1" fill="#000"/>
<rect x="148" y="707" width="1" height="1" fill="#000"/>
<rect x="156" y="707" width="1" height="1" fill="#000"/>
<rect x="164" y="707" width="1" height="1" fill="#000"/>
<rect x="172" y="707" width="1" height="1" fill="#000"/>
<rect x="180" y="707" width="1" height="1" fill="#000"/>
<rect x="188" y="707" width="1" height="1" fill="#000"/>
<rect x="196" y="707" width="1" height="1" fill="#000"/>
<rect x="204" y="707" width="1" height="1" fill="#000"/>
<rect x="212" y="707" width="1" height="1" fill="#000"/>
<rect x="220" y="707" width="1" height="1" fill="#000"/>
<rect x="228" y="707" width="1" height="1" fill="#000"/>
<rect x="236" y="707" width="1" height="1" fill="#000"/>
<rect x="244" y="707" width="1" height="1" fill="#000"/>
<rect x="252" y="707" width="1" height="1" fill="#000"/>
<rect x="260" y="707" width="1" height="1" fill="#000"/>
<rect x="268" y="707" width="1" height="1" fill="#000"/>
<rect x="276" y="707" width="1" height="1" fill="#000"/>
<rect x="284" y="707" width="1" height="1" fill="#000"/>
<rect x="292" y="707" width="1" height="1" fill="#000"/>
<rect x="300" y="707" width="1" height="1" fill="#000"/>
<rect x="308" y="707" width="1" height="1" fill="#000"/>
<rect x="316" y="707" width="1" height="1" fill="#000"/>
<rect x="324" y="707" width="1" height="1" fill="#000"/>
<rect x="332" y="707" width="1" height="1" fill="#000"/>
<rect x="340" y="707" width="1" height="1" fill="#000"/>
<rect x="348" y="707" width="1" height="1" fill="#000"/>
<rect x="356" y="707" width="1" height="1" fill="#000"/>
<rect x="364" y="707" width="1" height="1" fill="#000"/>
<rect x="372" y="707" width="1" height="1" fill="#000"/>
<rect x="380" y="707" width="1" height="1" fill="#000"/>
<rect x="388" y="707" width="1" height="1" fill="#000"/>
<rect x="396" y="707" width="1" height="1" fill="#000"/>
<rect x="404" y="707" width="1" height="1" fill="#000"/>
<rect x="412" y="707" width="1" height="1" fill="#000"/>
<rect x="420" y="707" width="1" height="1" fill="#000"/>
<rect x="428" y="707" width="1" height="1" fill="#000"/>
<rect x="436" y="707" width="1" height="1" fill="#000"/>
<rect x="444" y="707" width="1" height="1" fill="#000"/>
<rect x="452" y="707" width="1" height="1" fill="#000"/>
<rect x="460" y="707" width="1" height="1" fill="#000"/>
<rect x="468" y="707" width="1" height="1" fill="#000"/>
<rect x="476" y="707" width="1" height="1" fill="#000"/>
<rect x="484" y="707" width="1" height="1" fill="#000"/>
<rect x="492" y="707" width="1" height="1" fill="#000"/>
<rect x="500" y="707" width="1" height="1" fill="#000"/>
<rect x="508" y="707" width="1" height="1" fill="#000"/>
<rect x="516" y="707" width="1" height="1" fill="#000"/>
<rect x="524" y="707" width="1" height="1" fill="#000"/>
<rect x="532" y="707" width="1" height="1" fill="#000"/>
<rect x="540" y="707" width="1" height="1" fill="#000"/>
<rect x="548" y="707" width="1" height="1" fill="#000"/>
<rect x="556" y="707" width="1" height="1" fill="#000"/>
<rect x="564" y="707" width="1" height="1" fill="#000"/>
<rect x="572" y="707" width="1" height="1" fill="#000"/>
<rect x="580" y="707" width="1" height="1" fill="#000"/>
<rect x="588" y="707" width="1" height="1" fill="#000"/>
<rect x="596" y="707" width="1" height="1" fill="#000"/>
<rect x="604" y="707" width="1" height="1" fill="#000"/>
<rect x="612" y="707" width="1" height="1" fill="#000"/>
<rect x="620" y="707" width="1" height="1" fill="#000"/>
<rect x="628" y="707" width="1" height="1" fill="#000"/>
<rect x="636" y="707" width="1" height="1" fill="#000"/>
<rect x="644" y="707" width="1" height="1" fill="#000"/>
<rect x="652" y="707" width="1" height="1" fill="#000"/>
<rect x="660" y="707" width="1" height="1" fill="#000"/>
<rect x="668" y="707" width="1" height="1" fill="#000"/>
<rect x="676" y="707" width="1" height="1" fill="#000"/>
<rect x="684" y="707" width="1" height="1" fill="#000"/>
<rect x="692" y="707" width="1" height="1" fill="#000"/>
<rect x="700" y="707" width="1" height="1" fill="#000"/>
<rect x="708" y="707" width="1" height="1" fill="#000"/>
<rect x="716" y="707" width="1" height="1" fill="#000"/>
<rect x="417" y="431" width="1" height="1" fill="#000"/>
<rect x="417" y="439" width="1" height="1" fill="#000"/>
<rect x="417" y="447" width="1" height="1" fill="#000"/>
<rect x="417" y="455" width="1" height="1" fill="#000"/>
<rect x="417" y="463" width="1" height="1" fill="#000"/>
<rect x="417" y="471" width="1" height="1" fill="#000"/>
<rect x="417" y="479" width="1" height="1" fill="#000"/>
<rect x="417" y="487" width="1" height="1" fill="#000"/>
<rect x="417" y="495" width="1" height="1" fill="#000"/>
<rect x="417" y="503" width="1" height="1" fill="#000"/>
<rect x="417" y="511" width="1" height="1" fill="#000"/>
<rect x="417" y="519" width="1" height="1" fill="#000"/>
<rect x="417" y="527" width="1" height="1" fill="#000"/>
<rect x="417" y="535" width="1" height="1" fill="#000"/>
<rect x="417" y="543" width="1" height="1" fill="#000"/>
<rect x="417" y="551" width="1" height="1" fill="#000"/>
<rect x="417" y="559" width="1" height="1" fill="#000"/>
<rect x="417" y="567" width="1" height="1" fill="#000"/>
<rect x="417" y="575" width="1" height="1" fill="#000"/>
<rect x="417" y="583" width="1" height="1" fill="#000"/>
<rect x="417" y="591" width="1" height="1" fill="#000"/>
<rect x="417" y="599" width="1" height="1" fill="#000"/>
<rect x="417" y="607" width="1" height="1" fill="#000"/>
<rect x="417" y="615" width="1" height="1" fill="#000"/>
<rect x="417" y="623" width="1" height="1" fill="#000"/>
<rect x="417" y="631" width="1" height="1" fill="#000"/>
<rect x="417" y="639" width="1" height="1" fill="#000"/>
<rect x="417" y="647" width="1" height="1" fill="#000"/>
<rect x="417" y="655" width="1" height="1" fill="#000"/>
<rect x="417" y="663" width="1" height="1" fill="#000"/>
<rect x="417" y="671" width="1" height="1" fill="#000"/>
<rect x="417" y="679" width="1" height="1" fill="#000"/>
<rect x="417" y="687" width="1" height="1" fill="#000"/>
<rect x="417" y="695" width="1" height="1" fill="#000"/>
<rect x="417" y="703" width="1" height="1" fill="#000"/>
<rect x="417" y="711" width="1" height="1" fill="#000"/>
<rect x="417" y="719" width="1" height="1" fill="#000"/>
<rect x="417" y="727" width="1" height="1" fill="#000"/>
<polyline points="22.5,551.5 30.5,551.5 39.5,560.5 48.5,583.5 65.5,583.5 73.5,605.5 82.5,605.5 91.5,621.5 99.5,627.5 142.5,627.5 151.5,651.5 159.5,670.5 168.5,670.5 177.5,707.5 323.5,707.5 331.5,672.5 340.5,605.5 349.5,580.5 478.5,580.5 486.5,546.5 495.5,518.5 503.5,511.5 512.5,519.5 658.5,519.5 667.5,517.5 700.5,517.5" fill="none" stroke="#009900" stroke-width="1" shape-rendering="crispEdges"/>
<polyline points="22.5,575.5 30.5,565.5 177.5,565.5 185.5,571.5 194.5,577.5 211.5,577.5 220.5,568.5 228.5,562.5 237.5,559.5 245.5,555.5 254.5,548.5 263.5,543.5 271.5,540.5 280.5,540.5 288.5,528.5 297.5,520.5 357.5,520.5 366.5,503.5 374.5,490.5 383.5,486.5 426.5,486.5 435.5,477.5 452.5,477.5 460.5,462.5 469.5,453.5 546.5,453.5 555.5,449.5 564.5,444.5 700.5,444.5" fill="none" stroke="#ff0000" stroke-width="1" shape-rendering="crispEdges"/>
<rect x="10" y="598" width="7" height="31" fill="#000"/>
<rect x="11" y="599" width="5" height="29" fill="#fff"/>
<rect x="19" y="563" width="7" height="36" fill="#000"/>
<rect x="20" y="564" width="5" height="34" fill="#fff"/>
<rect x="27" y="557" width="7" height="7" fill="#000"/>
<rect x="28" y="558" width="5" height="5" fill="#fff"/>
<rect x="36" y="557" width="7" height="9" fill="#000"/>
<rect x="45" y="565" width="7" height="29" fill="#000"/>
<rect x="53" y="584" width="7" height="10" fill="#000"/>
<rect x="62" y="577" width="7" height="8" fill="#000"/>
<rect x="63" y="578" width="5" height="6" fill="#fff"/>
<rect x="70" y="577" width="7" height="41" fill="#000"/>
<rect x="79" y="599" width="7" height="19" fill="#000"/>
<rect x="88" y="599" width="7" height="39" fill="#000"/>
<rect x="96" y="635" width="7" height="3" fill="#000"/>
<rect x="105" y="577" width="7" height="59" fill="#000"/>
<rect x="106" y="578" width="5" height="57" fill="#fff"/>
<rect x="113" y="575" width="7" height="3" fill="#000"/>
<rect x="114" y="576" width="5" height="1" fill="#fff"/>
<rect x="122" y="572" width="7" height="4" fill="#000"/>
<rect x="123" y="573" width="5" height="2" fill="#fff"/>
<rect x="131" y="572" width="7" height="60" fill="#000"/>
<rect x="139" y="628" width="7" height="4" fill="#000"/>
<rect x="148" y="628" width="7" height="36" fill="#000"/>
<rect x="156" y="663" width="7" height="19" fill="#000"/>
<rect x="165" y="670" width="7" height="12" fill="#000"/>
<rect x="174" y="670" width="7" height="56" fill="#000"/>
<rect x="182" y="690" width="7" height="36" fill="#000"/>
<rect x="191" y="629" width="7" height="62" fill="#000"/>
<rect x="192" y="630" width="5" height="60" fill="#fff"/>
<rect x="199" y="594" width="7" height="36" fill="#000"/>
<rect x="200" y="595" width="5" height="34" fill="#fff"/>
<rect x="208" y="570" width="7" height="25" fill="#000"/>
<rect x="209" y="571" width="5" height="23" fill="#fff"/>
<rect x="217" y="554" width="7" height="17" fill="#000"/>
<rect x="218" y="555" width="5" height="15" fill="#fff"/>
<rect x="225" y="554" width="7" height="14" fill="#000"/>
<rect x="226" y="555" width="5" height="12" fill="#fff"/>
<rect x="234" y="558" width="7" height="10" fill="#000"/>
<rect x="235" y="559" width="5" height="8" fill="#fff"/>
<rect x="242" y="547" width="7" height="12" fill="#000"/>
<rect x="243" y="548" width="5" height="10" fill="#fff"/>
<rect x="251" y="545" width="7" height="3" fill="#000"/>
<rect x="252" y="546" width="5" height="1" fill="#fff"/>
<rect x="260" y="535" width="7" height="11" fill="#000"/>
<rect x="261" y="536" width="5" height="9" fill="#fff"/>
<rect x="268" y="535" width="7" height="14" fill="#000"/>
<rect x="277" y="547" width="7" height="2" fill="#000"/>
<rect x="285" y="518" width="7" height="30" fill="#000"/>
<rect x="286" y="519" width="5" height="28" fill="#fff"/>
<rect x="294" y="515" width="7" height="4" fill="#000"/>
<rect x="295" y="516" width="5" height="2" fill="#fff"/>
<rect x="303" y="515" width="7" height="34" fill="#000"/>
<rect x="311" y="547" width="7" height="2" fill="#000"/>
<rect x="320" y="547" width="7" height="6" fill="#000"/>
<rect x="328" y="552" width="7" height="44" fill="#000"/>
<rect x="337" y="564" width="7" height="32" fill="#000"/>
<rect x="346" y="533" width="7" height="32" fill="#000"/>
<rect x="347" y="534" width="5" height="30" fill="#fff"/>
<rect x="354" y="508" width="7" height="26" fill="#000"/>
<rect x="355" y="509" width="5" height="24" fill="#fff"/>
<rect x="363" y="493" width="7" height="16" fill="#000"/>
<rect x="364" y="494" width="5" height="14" fill="#fff"/>
<rect x="371" y="479" width="7" height="15" fill="#000"/>
<rect x="372" y="480" width="5" height="13" fill="#fff"/>
<rect x="380" y="479" width="7" height="3" fill="#000"/>
<rect x="381" y="480" width="5" height="1" fill="#fff"/>
<rect x="389" y="481" width="7" height="11" fill="#000"/>
<rect x="397" y="491" width="7" height="3" fill="#000"/>
<rect x="406" y="493" width="7" height="27" fill="#000"/>
<rect x="414" y="515" width="7" height="5" fill="#000"/>
<rect x="423" y="493" width="7" height="23" fill="#000"/>
<rect x="424" y="494" width="5" height="21" fill="#fff"/>
<rect x="432" y="467" width="7" height="27" fill="#000"/>
<rect x="433" y="468" width="5" height="25" fill="#fff"/>
<rect x="440" y="467" width="7" height="13" fill="#000"/>
<rect x="441" y="468" width="5" height="11" fill="#fff"/>
<rect x="449" y="479" width="7" height="1" fill="#000"/>
<rect x="457" y="452" width="7" height="28" fill="#000"/>
<rect x="458" y="453" width="5" height="26" fill="#fff"/>
<rect x="466" y="447" width="7" height="6" fill="#000"/>
<rect x="467" y="448" width="5" height="4" fill="#fff"/>
<rect x="475" y="447" width="7" height="10" fill="#000"/>
<rect x="483" y="456" width="7" height="19" fill="#000"/>
<rect x="492" y="463" width="7" height="12" fill="#000"/>
<rect x="500" y="460" width="7" height="4" fill="#000"/>
<rect x="501" y="461" width="5" height="2" fill="#fff"/>
<rect x="509" y="460" width="7" height="82" fill="#000"/>
<rect x="518" y="496" width="7" height="46" fill="#000"/>
<rect x="526" y="476" width="7" height="21" fill="#000"/>
<rect x="527" y="477" width="5" height="19" fill="#fff"/>
<rect x="535" y="474" width="7" height="3" fill="#000"/>
<rect x="536" y="475" width="5" height="1" fill="#fff"/>
<rect x="543" y="454" width="7" height="21" fill="#000"/>
<rect x="544" y="455" width="5" height="19" fill="#fff"/>
<rect x="552" y="440" width="7" height="15" fill="#000"/>
<rect x="553" y="441" width="5" height="13" fill="#fff"/>
<rect x="561" y="440" width="7" height="1" fill="#000"/>
<rect x="569" y="440" width="7" height="7" fill="#000"/>
<rect x="578" y="446" width="7" height="14" fill="#000"/>
<rect x="586" y="438" width="7" height="22" fill="#000"/>
<rect x="587" y="439" width="5" height="20" fill="#fff"/>
<rect x="595" y="438" width="7" height="31" fill="#000"/>
<rect x="604" y="468" width="7" height="19" fill="#000"/>
<rect x="612" y="486" width="7" height="49" fill="#000"/>
<rect x="621" y="454" width="7" height="81" fill="#000"/>
<rect x="622" y="455" width="5" height="79" fill="#fff"/>
<rect x="629" y="438" width="7" height="17" fill="#000"/>
<rect x="630" y="439" width="5" height="15" fill="#fff"/>
<rect x="638" y="438" width="7" height="12" fill="#000"/>
<rect x="639" y="439" width="5" height="10" fill="#fff"/>
<rect x="647" y="447" width="7" height="3" fill="#000"/>
<rect x="648" y="448" width="5" height="1" fill="#fff"/>
<rect x="655" y="447" width="7" height="64" fill="#000"/>
<rect x="664" y="510" width="7" height="2" fill="#000"/>
<rect x="672" y="503" width="7" height="9" fill="#000"/>
<rect x="673" y="504" width="5" height="7" fill="#fff"/>
<rect x="681" y="476" width="7" height="28" fill="#000"/>
<rect x="682" y="477" width="5" height="26" fill="#fff"/>
<rect x="690" y="476" width="7" height="17" fill="#000"/>
<rect x="691" y="477" width="5" height="15" fill="#fff"/>
<rect x="698" y="463" width="7" height="30" fill="#000"/>
<rect x="699" y="464" width="5" height="28" fill="#fff"/>
<rect x="10" y="417" width="446" height="15" fill="#fff"/>
<rect x="10" y="431" width="203" height="15" fill="#fff"/>
<rect x="3" y="423" width="1" height="309" fill="#000"/>
<rect x="719" y="423" width="1" height="309" fill="#000"/>
<rect x="3" y="731" width="717" height="1" fill="#000"/>
<rect x="3" y="423" width="7" height="1" fill="#000"/>
<rect x="456" y="423" width="264" height="1" fill="#000"/>
<rect x="4" y="430" width="1" height="1" fill="#000"/>
<rect x="720" y="430" width="4" height="1" fill="#000"/>
<rect x="4" y="476" width="1" height="1" fill="#000"/>
<rect x="720" y="476" width="4" height="1" fill="#000"/>
<rect x="4" y="522" width="1" height="1" fill="#000"/>
<rect x="720" y="522" width="4" height="1" fill="#000"/>
<rect x="4" y="568" width="1" height="1" fill="#000"/>
<rect x="720" y="568" width="4" height="1" fill="#000"/>
<rect x="4" y="615" width="1" height="1" fill="#000"/>
<rect x="720" y="615" width="4" height="1" fill="#000"/>
<rect x="4" y="661" width="1" height="1" fill="#000"/>
<rect x="720" y="661" width="4" height="1" fill="#000"/>
<rect x="4" y="707" width="1" height="1" fill="#000"/>
<rect x="720" y="707" width="4" height="1" fill="#000"/>
<rect x="38" y="535" width="3" height="6" fill="#ff0000"/>
<rect x="35" y="541" width="9" height="1" fill="#ff0000"/>
<rect x="36" y="542" width="7" height="2" fill="#ff0000"/>
<rect x="37" y="544" width="5" height="2" fill="#ff0000"/>
<rect x="38" y="546" width="3" height="2" fill="#ff0000"/>
<rect x="39" y="548" width="1" height="2" fill="#ff0000"/>
<rect x="133" y="550" width="3" height="6" fill="#ff0000"/>
<rect x="130" y="556" width="9" height="1" fill="#ff0000"/>
<rect x="131" y="557" width="7" height="2" fill="#ff0000"/>
<rect x="132" y="559" width="5" height="2" fill="#ff0000"/>
<rect x="133" y="561" width="3" height="2" fill="#ff0000"/>
<rect x="134" y="563" width="1" height="2" fill="#ff0000"/>
<rect x="270" y="513" width="3" height="6" fill="#ff0000"/>
<rect x="267" y="519" width="9" height="1" fill="#ff0000"/>
<rect x="268" y="520" width="7" height="2" fill="#ff0000"/>
<rect x="269" y="522" width="5" height="2" fill="#ff0000"/>
<rect x="270" y="524" width="3" height="2" fill="#ff0000"/>
<rect x="271" y="526" width="1" height="2" fill="#ff0000"/>
<rect x="305" y="493" width="3" height="6" fill="#ff0000"/>
<rect x="302" y="499" width="9" height="1" fill="#ff0000"/>
<rect x="303" y="500" width="7" height="2" fill="#ff0000"/>
<rect x="304" y="502" width="5" height="2" fill="#ff0000"/>
<rect x="305" y="504" width="3" height="2" fill="#ff0000"/>
<rect x="306" y="506" width="1" height="2" fill="#ff0000"/>
<rect x="391" y="459" width="3" height="6" fill="#ff0000"/>
<rect x="388" y="465" width="9" height="1" fill="#ff0000"/>
<rect x="389" y="466" width="7" height="2" fill="#ff0000"/>
<rect x="390" y="468" width="5" height="2" fill="#ff0000"/>
<rect x="391" y="470" width="3" height="2" fill="#ff0000"/>
<rect x="392" y="472" width="1" height="2" fill="#ff0000"/>
<rect x="477" y="425" width="3" height="6" fill="#ff0000"/>
<rect x="474" y="431" width="9" height="1" fill="#ff0000"/>
<rect x="475" y="432" width="7" height="2" fill="#ff0000"/>
<rect x="476" y="434" width="5" height="2" fill="#ff0000"/>
<rect x="477" y="436" width="3" height="2" fill="#ff0000"/>
<rect x="478" y="438" width="1" height="2" fill="#ff0000"/>
<rect x="571" y="418" width="3" height="6" fill="#ff0000"/>
<rect x="568" y="424" width="9" height="1" fill="#ff0000"/>
<rect x="569" y="425" width="7" height="2" fill="#ff0000"/>
<rect x="570" y="427" width="5" height="2" fill="#ff0000"/>
<rect x="571" y="429" width="3" height="2" fill="#ff0000"/>
<rect x="572" y="431" width="1" height="2" fill="#ff0000"/>
<rect x="597" y="416" width="3" height="6" fill="#ff0000"/>
<rect x="594" y="422" width="9" height="1" fill="#ff0000"/>
<rect x="595" y="423" width="7" height="2" fill="#ff0000"/>
<rect x="596" y="425" width="5" height="2" fill="#ff0000"/>
<rect x="597" y="427" width="3" height="2" fill="#ff0000"/>
<rect x="598" y="429" width="1" height="2" fill="#ff0000"/>
<rect x="657" y="425" width="3" height="6" fill="#ff0000"/>
<rect x="654" y="431" width="9" height="1" fill="#ff0000"/>
<rect x="655" y="432" width="7" height="2" fill="#ff0000"/>
<rect x="656" y="434" width="5" height="2" fill="#ff0000"/>
<rect x="657" y="436" width="3" height="2" fill="#ff0000"/>
<rect x="658" y="438" width="1" height="2" fill="#ff0000"/>
<rect x="65" y="591" width="1" height="2" fill="#009900"/>
<rect x="64" y="593" width="3" height="2" fill="#009900"/>
<rect x="63" y="595" width="5" height="2" fill="#009900"/>
<rect x="62" y="597" width="7" height="2" fill="#009900"/>
<rect x="61" y="599" width="9" height="1" fill="#009900"/>
<rect x="64" y="600" width="3" height="6" fill="#009900"/>
<rect x="108" y="642" width="1" height="2" fill="#009900"/>
<rect x="107" y="644" width="3" height="2" fill="#009900"/>
<rect x="106" y="646" width="5" height="2" fill="#009900"/>
<rect x="105" y="648" width="7" height="2" fill="#009900"/>
<rect x="104" y="650" width="9" height="1" fill="#009900"/>
<rect x="107" y="651" width="3" height="6" fill="#009900"/>
<rect x="194" y="697" width="1" height="2" fill="#009900"/>
<rect x="193" y="699" width="3" height="2" fill="#009900"/>
<rect x="192" y="701" width="5" height="2" fill="#009900"/>
<rect x="191" y="703" width="7" height="2" fill="#009900"/>
<rect x="190" y="705" width="9" height="1" fill="#009900"/>
<rect x="193" y="706" width="3" height="6" fill="#009900"/>
<rect x="349" y="571" width="1" height="2" fill="#009900"/>
<rect x="348" y="573" width="3" height="2" fill="#009900"/>
<rect x="347" y="575" width="5" height="2" fill="#009900"/>
<rect x="346" y="577" width="7" height="2" fill="#009900"/>
<rect x="345" y="579" width="9" height="1" fill="#009900"/>
<rect x="348" y="580" width="3" height="6" fill="#009900"/>
<rect x="426" y="522" width="1" height="2" fill="#009900"/>
<rect x="425" y="524" width="3" height="2" fill="#009900"/>
<rect x="424" y="526" width="5" height="2" fill="#009900"/>
<rect x="423" y="528" width="7" height="2" fill="#009900"/>
<rect x="422" y="530" width="9" height="1" fill="#009900"/>
<rect x="425" y="531" width="3" height="6" fill="#009900"/>
<rect x="503" y="470" width="1" height="2" fill="#009900"/>
<rect x="502" y="472" width="3" height="2" fill="#009900"/>
<rect x="501" y="474" width="5" height="2" fill="#009900"/>
<rect x="500" y="476" width="7" height="2" fill="#009900"/>
<rect x="499" y="478" width="9" height="1" fill="#009900"/>
<rect x="502" y="479" width="3" height="6" fill="#009900"/>
<rect x="624" y="541" width="1" height="2" fill="#009900"/>
<rect x="623" y="543" width="3" height="2" fill="#009900"/>
<rect x="622" y="545" width="5" height="2" fill="#009900"/>
<rect x="621" y="547" width="7" height="2" fill="#009900"/>
<rect x="620" y="549" width="9" height="1" fill="#009900"/>
<rect x="623" y="550" width="3" height="6" fill="#009900"/>
<rect x="65" y="732" width="1" height="7" fill="#000"/>
<rect x="228" y="732" width="1" height="7" fill="#000"/>
<rect x="417" y="732" width="1" height="7" fill="#000"/>
<rect x="589" y="732" width="1" height="7" fill="#000"/>
<text x="10 17 25 34" y="11" fill="#000">TENJ</text>
<text x="43" y="11" fill="#000">-</text>
<text x="50 59 66 69 72" y="11" fill="#000">Daily</text>
<text x="80 87 94 101 108 112 119 126 130 137" y="11" fill="#000">2026-02-20</text>
<text x="147 156 163 170" y="11" fill="#000">Open</text>
<text x="180 187 194 197 204 211 218" y="11" fill="#000">25.656,</text>
<text x="224 233" y="11" fill="#000">Hi</text>
<text x="239 246 253 256 263 270 277" y="11" fill="#000">25.656,</text>
<text x="283 290" y="11" fill="#000">Lo</text>
<text x="300 307 314 317 324 331 338" y="11" fill="#000">25.656,</text>
<text x="344 353 356 363 369" y="11" fill="#000">Close</text>
<text x="379 386 393 396 403 410" y="11" fill="#000">25.656</text>
<text x="421 425 432 435 442 453" y="11" fill="#000">(0.5%)</text>
<text x="10 17 24 31" y="25" fill="#ff0000">100%</text>
<text x="45" y="25" fill="#000">=</text>
<text x="55 59 67 77 85 92 99 102" y="25" fill="#000">{EMPTY},</text>
<text x="108 115 122 125 132" y="25" fill="#ff00ff">78.6%</text>
<text x="146" y="25" fill="#000">=</text>
<text x="156 160 168 178 186 193 200 203" y="25" fill="#000">{EMPTY},</text>
<text x="209 216 223 226 233" y="25" fill="#88a0c8">61.8%</text>
<text x="247" y="25" fill="#000">=</text>
<text x="257 261 269 279 287 294 301 304" y="25" fill="#000">{EMPTY},</text>
<text x="310 317 324" y="25" fill="#0000ff">50%</text>
<text x="338" y="25" fill="#000">=</text>
<text x="348 352 360 370 378 385 392 395" y="25" fill="#000">{EMPTY},</text>
<text x="401 408 415 418 425" y="25" fill="#a0acc0">38.2%</text>
<text x="439" y="25" fill="#000">=</text>
<text x="449 453 461 471 479 486 493 496" y="25" fill="#000">{EMPTY},</text>
<text x="502 509 516 519 526" y="25" fill="#ff00ff">23.6%</text>
<text x="540" y="25" fill="#000">=</text>
<text x="550 554 562 572 580 587 594 597" y="25" fill="#000">{EMPTY},</text>
<text x="603 610" y="25" fill="#008000">0%</text>
<text x="624" y="25" fill="#000">=</text>
<text x="634 638 646 656 664 671 678" y="25" fill="#000">{EMPTY}</text>
<text x="10 17 25 34" y="325" fill="#000">TENJ</text>
<text x="43" y="325" fill="#000">-</text>
<text x="50 58 65 72 76 79 87 94" y="325" fill="#808000">ShortPds</text>
<text x="104" y="325" fill="#000">=</text>
<text x="114 118 125 128 135 142" y="325" fill="#000">-0.04,</text>
<text x="148 156 163 170 174 177 185 192" y="325" fill="#808000">ShortPds</text>
<text x="202" y="325" fill="#000">=</text>
<text x="212 216 223 226 233 240" y="325" fill="#000">-0.11,</text>
<text x="246 253 260 267 274 282 289" y="325" fill="#0000ff">LongPds</text>
<text x="299" y="325" fill="#000">=</text>
<text x="309 316 319 326 333" y="325" fill="#000">0.09,</text>
<text x="339 346 353 360 367 375 382" y="325" fill="#0000ff">LongPds</text>
<text x="392" y="325" fill="#000">=</text>
<text x="402 409 412 419" y="325" fill="#000">0.17</text>
<text x="10 17 25 34" y="429" fill="#000">TENJ</text>
<text x="43" y="429" fill="#000">-</text>
<text x="50 59 66 69 72" y="429" fill="#000">Daily</text>
<text x="80 87 94 101 108 112 119 126 130 137" y="429" fill="#000">2026-02-20</text>
<text x="147 156 163 170" y="429" fill="#000">Open</text>
<text x="180 187 194 197 204 211 218 221 230" y="429" fill="#000">25.656,Hi</text>
<text x="236 243 250 253 260 267 274 277 284" y="429" fill="#000">25.656,Lo</text>
<text x="294 301 308 311 318 325 332" y="429" fill="#000">25.656,</text>
<text x="338 347 350 357 363" y="429" fill="#000">Close</text>
<text x="373 380 387 390 397 404" y="429" fill="#000">25.656</text>
<text x="415 419 426 429 436 447" y="429" fill="#000">(0.5%)</text>
<text x="10 17 24" y="443" fill="#000040">Vol</text>
<text x="30" y="443" fill="#000040">0</text>
<text x="40 47 51 58 65 72" y="443" fill="#ff0000">graph8</text>
<text x="82" y="443" fill="#000">=</text>
<text x="92 99 106 109 116 123" y="443" fill="#000">25.74,</text>
<text x="129 136 140 147 154 161" y="443" fill="#008000">graph9</text>
<text x="171" y="443" fill="#000">=</text>
<text x="181 188 195 198 205" y="443" fill="#000">25.42</text>
<text x="752 759 766 769" y="15" fill="#000">25.8</text>
<text x="752 759 766 769" y="59" fill="#000">25.6</text>
<text x="752 759 766 769" y="103" fill="#000">25.4</text>
<text x="752 759 766 769" y="147" fill="#000">25.2</text>
<text x="752 759 766 769" y="191" fill="#000">25.0</text>
<text x="752 759 766 769" y="235" fill="#000">24.8</text>
<text x="752 759 766 769" y="280" fill="#000">24.6</text>
<text x="9 18 24 27 34 41 48" y="310" fill="#000">October</text>
<text x="69 78 85 91 98 109 116 123" y="310" fill="#000">November</text>
<text x="232 241 248 254 261 272 279 286" y="310" fill="#000">December</text>
<text x="421 428 435 442" y="310" fill="#000">2026</text>
<text x="593 600 607 614 618 625 632 636" y="310" fill="#000">February</text>
<text x="759 766 769" y="328" fill="#000">2.0</text>
<text x="759 766 769" y="343" fill="#000">1.5</text>
<text x="759 766 769" y="359" fill="#000">1.0</text>
<text x="759 766 769" y="374" fill="#000">0.5</text>
<text x="759 766 769" y="389" fill="#000">0.0</text>
<text x="755 759 766 769" y="404" fill="#000">-0.5</text>
<text x="752 759 766 769" y="434" fill="#000">25.8</text>
<text x="752 759 766 769" y="480" fill="#000">25.6</text>
<text x="752 759 766 769" y="526" fill="#000">25.4</text>
<text x="752 759 766 769" y="572" fill="#000">25.2</text>
<text x="752 759 766 769" y="619" fill="#000">25.0</text>
<text x="752 759 766 769" y="665" fill="#000">24.8</text>
<text x="752 759 766 769" y="711" fill="#000">24.6</text>
<text x="9 18 24 27 34 41 48" y="743" fill="#000">October</text>
<text x="69 78 85 91 98 109 116 123" y="743" fill="#000">November</text>
<text x="232 241 248 254 261 272 279 286" y="743" fill="#000">December</text>
<text x="421 428 435 442" y="743" fill="#000">2026</text>
<text x="593 600 607 614 618 625 632 636" y="743" fill="#000">February</text>
</svg>
</body></html>
